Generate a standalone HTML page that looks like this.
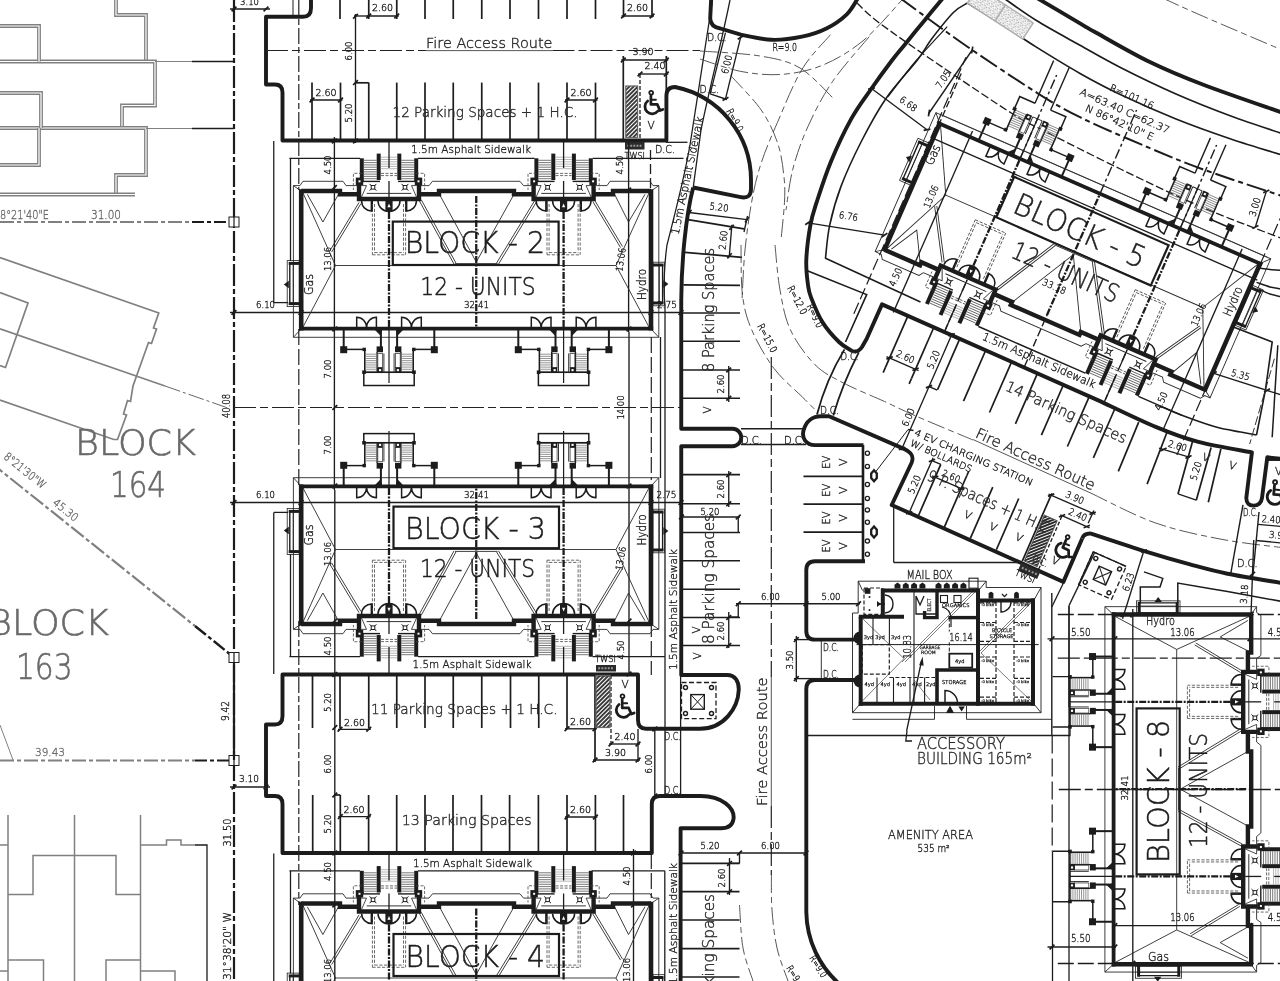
<!DOCTYPE html>
<html lang="en"><head><meta charset="utf-8"><title>Site Plan</title>
<style>html,body{margin:0;padding:0;background:#fff;overflow:hidden}svg{display:block;filter:grayscale(1)}text{font-family:"DejaVu Sans Light","Liberation Sans",sans-serif;white-space:pre}text.d{stroke:#1c1c1c;stroke-width:0.35px}text.g{stroke:#6a6a6a;stroke-width:0.35px}text.b{stroke:#1e1e1e;stroke-width:0.5px}text.bg{stroke:#6a6a6a;stroke-width:0.6px}text.m{stroke:#2b2b2b;stroke-width:0.4px}</style></head><body>
<svg width="1280" height="981" viewBox="0 0 1280 981">
<rect width="1280" height="981" fill="#fff"/>
<defs><g id="bldg">
<path d="M293.4,337.3 V185.6 H300 L303,181.3 H343 L346,185.6 H357" stroke="#2a2a2a" stroke-width="0.9" fill="none"/>
<path d="M421,185.6 H429 L432.5,181.3 H520 L523.5,185.6 H531.6" stroke="#2a2a2a" stroke-width="0.9" fill="none"/>
<path d="M595.6,185.6 H607 L610,181.3 H650 L653,185.6 H658.8 V337.3 H293.4" stroke="#2a2a2a" stroke-width="0.9" fill="none"/>
<line x1="293.4" y1="185.6" x2="301" y2="191" stroke="#2a2a2a" stroke-width="0.9"/>
<line x1="658.8" y1="185.6" x2="651" y2="191" stroke="#2a2a2a" stroke-width="0.9"/>
<line x1="293.4" y1="337.3" x2="301" y2="329" stroke="#2a2a2a" stroke-width="0.9"/>
<line x1="658.8" y1="337.3" x2="651" y2="329" stroke="#2a2a2a" stroke-width="0.9"/>
<line x1="335.5" y1="265.5" x2="616" y2="265.5" stroke="#2a2a2a" stroke-width="0.9"/>
<line x1="303" y1="193" x2="335.5" y2="265.5" stroke="#2a2a2a" stroke-width="0.9"/>
<line x1="303" y1="327" x2="335.5" y2="265.5" stroke="#2a2a2a" stroke-width="0.9"/>
<line x1="649" y1="193" x2="616" y2="265.5" stroke="#2a2a2a" stroke-width="0.9"/>
<line x1="649" y1="327" x2="616" y2="265.5" stroke="#2a2a2a" stroke-width="0.9"/>
<path d="M307.3,194.3 L322.9,222 L338.5,194.3" stroke="#2a2a2a" stroke-width="0.9" fill="none"/>
<path d="M614.6,194.3 L628.5,222 L645,194.3" stroke="#2a2a2a" stroke-width="0.9" fill="none"/>
<line x1="359.06" y1="202.43" x2="329.76" y2="250.93" stroke="#2a2a2a" stroke-width="0.9"/>
<line x1="360.94" y1="203.57" x2="331.64" y2="252.07" stroke="#2a2a2a" stroke-width="0.9"/>
<line x1="592.86" y1="201.57" x2="620.56" y2="247.57" stroke="#2a2a2a" stroke-width="0.9"/>
<line x1="594.74" y1="200.43" x2="622.44" y2="246.43" stroke="#2a2a2a" stroke-width="0.9"/>
<line x1="419.34" y1="200.83" x2="454.04" y2="264.13" stroke="#2a2a2a" stroke-width="0.9"/>
<line x1="421.26" y1="199.77" x2="455.96" y2="263.07" stroke="#2a2a2a" stroke-width="0.9"/>
<line x1="534.66" y1="200.63" x2="496.56" y2="263.03" stroke="#2a2a2a" stroke-width="0.9"/>
<line x1="536.54" y1="201.77" x2="498.44" y2="264.17" stroke="#2a2a2a" stroke-width="0.9"/>
<line x1="455" y1="263.6" x2="497.5" y2="263.6" stroke="#2a2a2a" stroke-width="0.9"/>
<path d="M439.4,194.3 L476.25,262 L514,194.3" stroke="#2a2a2a" stroke-width="0.9" fill="none"/>
<line x1="301.2" y1="189.2" x2="301.2" y2="330.4" stroke="#1c1c1c" stroke-width="4.6"/>
<line x1="651" y1="189.2" x2="651" y2="330.4" stroke="#1c1c1c" stroke-width="4.6"/>
<line x1="299" y1="328.6" x2="653.2" y2="328.6" stroke="#1c1c1c" stroke-width="3.8"/>
<path d="M301.2,191 H340 V194.3 H359" stroke="#1c1c1c" stroke-width="4.4" fill="none"/>
<path d="M419,194.3 H439 V191 H514 V194.3 H533.6" stroke="#1c1c1c" stroke-width="4.4" fill="none"/>
<path d="M593.6,194.3 H613 V191 H651" stroke="#1c1c1c" stroke-width="4.4" fill="none"/>
<line x1="361.8" y1="158.3" x2="361.8" y2="181.5" stroke="#1c1c1c" stroke-width="4"/>
<line x1="378.7" y1="153.6" x2="378.7" y2="180" stroke="#1c1c1c" stroke-width="4"/>
<line x1="399.3" y1="153.6" x2="399.3" y2="180" stroke="#1c1c1c" stroke-width="4"/>
<line x1="416.2" y1="158.3" x2="416.2" y2="181.5" stroke="#1c1c1c" stroke-width="4"/>
<line x1="363.8" y1="160.3" x2="376.7" y2="160.3" stroke="#555" stroke-width="0.8"/>
<line x1="401.3" y1="160.3" x2="414.2" y2="160.3" stroke="#555" stroke-width="0.8"/>
<line x1="363.8" y1="162.6" x2="376.7" y2="162.6" stroke="#555" stroke-width="0.8"/>
<line x1="401.3" y1="162.6" x2="414.2" y2="162.6" stroke="#555" stroke-width="0.8"/>
<line x1="363.8" y1="164.9" x2="376.7" y2="164.9" stroke="#555" stroke-width="0.8"/>
<line x1="401.3" y1="164.9" x2="414.2" y2="164.9" stroke="#555" stroke-width="0.8"/>
<line x1="363.8" y1="167.2" x2="376.7" y2="167.2" stroke="#555" stroke-width="0.8"/>
<line x1="401.3" y1="167.2" x2="414.2" y2="167.2" stroke="#555" stroke-width="0.8"/>
<line x1="363.8" y1="169.5" x2="376.7" y2="169.5" stroke="#555" stroke-width="0.8"/>
<line x1="401.3" y1="169.5" x2="414.2" y2="169.5" stroke="#555" stroke-width="0.8"/>
<line x1="363.8" y1="171.8" x2="376.7" y2="171.8" stroke="#555" stroke-width="0.8"/>
<line x1="401.3" y1="171.8" x2="414.2" y2="171.8" stroke="#555" stroke-width="0.8"/>
<line x1="363.8" y1="174.1" x2="376.7" y2="174.1" stroke="#555" stroke-width="0.8"/>
<line x1="401.3" y1="174.1" x2="414.2" y2="174.1" stroke="#555" stroke-width="0.8"/>
<line x1="363.8" y1="176.4" x2="376.7" y2="176.4" stroke="#555" stroke-width="0.8"/>
<line x1="401.3" y1="176.4" x2="414.2" y2="176.4" stroke="#555" stroke-width="0.8"/>
<line x1="363.8" y1="178.7" x2="376.7" y2="178.7" stroke="#555" stroke-width="0.8"/>
<line x1="401.3" y1="178.7" x2="414.2" y2="178.7" stroke="#555" stroke-width="0.8"/>
<line x1="380.7" y1="157.2" x2="397.3" y2="157.2" stroke="#999" stroke-width="0.7"/>
<line x1="380.7" y1="159.5" x2="397.3" y2="159.5" stroke="#999" stroke-width="0.7"/>
<line x1="380.7" y1="161.8" x2="397.3" y2="161.8" stroke="#999" stroke-width="0.7"/>
<line x1="380.7" y1="164.1" x2="397.3" y2="164.1" stroke="#999" stroke-width="0.7"/>
<line x1="380.7" y1="166.4" x2="397.3" y2="166.4" stroke="#999" stroke-width="0.7"/>
<line x1="380.7" y1="168.7" x2="397.3" y2="168.7" stroke="#999" stroke-width="0.7"/>
<line x1="360" y1="181.4" x2="380" y2="181.4" stroke="#1c1c1c" stroke-width="1.4"/>
<line x1="398" y1="181.4" x2="418" y2="181.4" stroke="#1c1c1c" stroke-width="1.4"/>
<line x1="389" y1="142" x2="389" y2="168" stroke="#1c1c1c" stroke-width="1.3"/>
<line x1="389" y1="181" x2="389" y2="197" stroke="#1c1c1c" stroke-width="1.3"/>
<line x1="381" y1="173.4" x2="397" y2="173.4" stroke="#444" stroke-width="0.8" stroke-dasharray="3 1.5"/>
<line x1="381" y1="175.6" x2="397" y2="175.6" stroke="#444" stroke-width="0.8" stroke-dasharray="3 1.5"/>
<rect x="355.8" y="177.6" width="7.4" height="7.4" stroke="#1c1c1c" stroke-width="0" fill="#1c1c1c"/>
<rect x="358.5" y="180.3" width="2" height="2" stroke="#fff" stroke-width="0" fill="#fff"/>
<path d="M362,173.3 H353.4 V190" stroke="#444" stroke-width="0.8" fill="none" stroke-dasharray="3 1.6"/>
<line x1="369.6" y1="183.9" x2="376.4" y2="190.7" stroke="#1c1c1c" stroke-width="1"/>
<line x1="369.6" y1="190.7" x2="376.4" y2="183.9" stroke="#1c1c1c" stroke-width="1"/>
<rect x="371.2" y="185.5" width="3.6" height="3.6" stroke="#1c1c1c" stroke-width="1" fill="#fff"/>
<path d="M358.5,185.6 L366.5,185.6 L361.5,197" stroke="#1e1e1e" stroke-width="0.8" fill="none"/>
<path d="M371.8,200.5 V211 A10,10 0 0 1 361.6,201" stroke="#1c1c1c" stroke-width="1.5" fill="none"/>
<line x1="371.8" y1="200.5" x2="371.8" y2="211.4" stroke="#1c1c1c" stroke-width="2.4"/>
<line x1="374.5" y1="204" x2="374.5" y2="252.6" stroke="#444" stroke-width="0.8" stroke-dasharray="3.2 1.6"/>
<line x1="372.4" y1="204" x2="372.4" y2="254.8" stroke="#444" stroke-width="0.8" stroke-dasharray="3.2 1.6"/>
<rect x="414.8" y="177.6" width="7.4" height="7.4" stroke="#1c1c1c" stroke-width="0" fill="#1c1c1c"/>
<rect x="417.5" y="180.3" width="2" height="2" stroke="#fff" stroke-width="0" fill="#fff"/>
<path d="M416,173.3 H424.6 V190" stroke="#444" stroke-width="0.8" fill="none" stroke-dasharray="3 1.6"/>
<line x1="401.6" y1="183.9" x2="408.4" y2="190.7" stroke="#1c1c1c" stroke-width="1"/>
<line x1="401.6" y1="190.7" x2="408.4" y2="183.9" stroke="#1c1c1c" stroke-width="1"/>
<rect x="403.2" y="185.5" width="3.6" height="3.6" stroke="#1c1c1c" stroke-width="1" fill="#fff"/>
<path d="M419.5,185.6 L411.5,185.6 L416.5,197" stroke="#1e1e1e" stroke-width="0.8" fill="none"/>
<path d="M406.2,200.5 V211 A10,10 0 0 0 416.4,201" stroke="#1c1c1c" stroke-width="1.5" fill="none"/>
<line x1="406.2" y1="200.5" x2="406.2" y2="211.4" stroke="#1c1c1c" stroke-width="2.4"/>
<line x1="403.5" y1="204" x2="403.5" y2="252.6" stroke="#444" stroke-width="0.8" stroke-dasharray="3.2 1.6"/>
<line x1="405.6" y1="204" x2="405.6" y2="254.8" stroke="#444" stroke-width="0.8" stroke-dasharray="3.2 1.6"/>
<line x1="366.7" y1="193.4" x2="411.3" y2="193.4" stroke="#1e1e1e" stroke-width="0.9"/>
<line x1="374.5" y1="252.6" x2="403.5" y2="252.6" stroke="#444" stroke-width="0.8" stroke-dasharray="3.2 1.6"/>
<line x1="372.4" y1="254.8" x2="405.6" y2="254.8" stroke="#444" stroke-width="0.8" stroke-dasharray="3.2 1.6"/>
<path d="M378,201 A11,10.4 0 0 0 400,201" stroke="#1c1c1c" stroke-width="1.5" fill="none"/>
<rect x="385.4" y="200" width="7.2" height="11.4" stroke="#1c1c1c" stroke-width="0" fill="#1c1c1c"/>
<path d="M387.4,207.2 L389,203.6 L390.6,207.2 Z" stroke="#fff" stroke-width="0" fill="#fff"/>
<path d="M359,184.5 V199 H419 V184.5" stroke="#1c1c1c" stroke-width="4.4" fill="none" stroke-linejoin="miter"/>
<line x1="389" y1="212" x2="389" y2="327" stroke="#1c1c1c" stroke-width="2.3" stroke-dasharray="7 1.5 2 1.5"/>
<line x1="343.7" y1="328.6" x2="343.7" y2="349.7" stroke="#1c1c1c" stroke-width="2"/>
<rect x="340.2" y="346.2" width="7" height="7" stroke="#1c1c1c" stroke-width="0" fill="#1c1c1c"/>
<line x1="343.7" y1="349.4" x2="365" y2="349.4" stroke="#1c1c1c" stroke-width="1.5"/>
<rect x="362.5" y="347.7" width="3.4" height="3.4" stroke="#1c1c1c" stroke-width="0" fill="#1c1c1c"/>
<line x1="380.9" y1="328.6" x2="380.9" y2="349" stroke="#1c1c1c" stroke-width="2"/>
<rect x="376.6" y="346.4" width="6.4" height="5.8" stroke="#1c1c1c" stroke-width="0" fill="#1c1c1c"/>
<line x1="364.8" y1="349.4" x2="364.8" y2="372.4" stroke="#1c1c1c" stroke-width="1.6"/>
<line x1="377.1" y1="352" x2="377.1" y2="372.4" stroke="#1c1c1c" stroke-width="1.4"/>
<line x1="376.4" y1="354.2" x2="365.6" y2="354.2" stroke="#7a7a7a" stroke-width="0.8"/>
<line x1="376.4" y1="356.35" x2="365.6" y2="356.35" stroke="#7a7a7a" stroke-width="0.8"/>
<line x1="376.4" y1="358.5" x2="365.6" y2="358.5" stroke="#7a7a7a" stroke-width="0.8"/>
<line x1="376.4" y1="360.65" x2="365.6" y2="360.65" stroke="#7a7a7a" stroke-width="0.8"/>
<line x1="376.4" y1="362.8" x2="365.6" y2="362.8" stroke="#7a7a7a" stroke-width="0.8"/>
<line x1="376.4" y1="364.95" x2="365.6" y2="364.95" stroke="#7a7a7a" stroke-width="0.8"/>
<line x1="376.4" y1="367.1" x2="365.6" y2="367.1" stroke="#7a7a7a" stroke-width="0.8"/>
<line x1="376.4" y1="369.25" x2="365.6" y2="369.25" stroke="#7a7a7a" stroke-width="0.8"/>
<line x1="376.4" y1="371.4" x2="365.6" y2="371.4" stroke="#7a7a7a" stroke-width="0.8"/>
<rect x="377.8" y="353.4" width="4.7" height="14.2" stroke="#444" stroke-width="0.8" fill="#fff"/>
<rect x="377.3" y="367.4" width="5.5" height="5.6" stroke="#1c1c1c" stroke-width="0" fill="#1c1c1c"/>
<rect x="378.95" y="369.1" width="2.2" height="2.2" stroke="#fff" stroke-width="0" fill="#fff"/>
<line x1="383.9" y1="353.4" x2="383.9" y2="372.2" stroke="#1e1e1e" stroke-width="0.9"/>
<rect x="362.2" y="370.4" width="3.6" height="3.6" stroke="#1c1c1c" stroke-width="0" fill="#1c1c1c"/>
<path d="M356.7,328.6 V317.3 A9.85,10.4 0 0 1 366.55,327.7 A9.85,10.4 0 0 1 376.4,317.3 V328.6" stroke="#1c1c1c" stroke-width="1.5" fill="none"/>
<path d="M375,330 L382,330 L380.8,336 Z" stroke="#1c1c1c" stroke-width="0" fill="#1c1c1c"/>
<line x1="434.3" y1="328.6" x2="434.3" y2="349.7" stroke="#1c1c1c" stroke-width="2"/>
<rect x="430.8" y="346.2" width="7" height="7" stroke="#1c1c1c" stroke-width="0" fill="#1c1c1c"/>
<line x1="434.3" y1="349.4" x2="413" y2="349.4" stroke="#1c1c1c" stroke-width="1.5"/>
<rect x="412.1" y="347.7" width="3.4" height="3.4" stroke="#1c1c1c" stroke-width="0" fill="#1c1c1c"/>
<line x1="397.1" y1="328.6" x2="397.1" y2="349" stroke="#1c1c1c" stroke-width="2"/>
<rect x="395" y="346.4" width="6.4" height="5.8" stroke="#1c1c1c" stroke-width="0" fill="#1c1c1c"/>
<line x1="413.2" y1="349.4" x2="413.2" y2="372.4" stroke="#1c1c1c" stroke-width="1.6"/>
<line x1="400.9" y1="352" x2="400.9" y2="372.4" stroke="#1c1c1c" stroke-width="1.4"/>
<line x1="401.6" y1="354.2" x2="412.4" y2="354.2" stroke="#7a7a7a" stroke-width="0.8"/>
<line x1="401.6" y1="356.35" x2="412.4" y2="356.35" stroke="#7a7a7a" stroke-width="0.8"/>
<line x1="401.6" y1="358.5" x2="412.4" y2="358.5" stroke="#7a7a7a" stroke-width="0.8"/>
<line x1="401.6" y1="360.65" x2="412.4" y2="360.65" stroke="#7a7a7a" stroke-width="0.8"/>
<line x1="401.6" y1="362.8" x2="412.4" y2="362.8" stroke="#7a7a7a" stroke-width="0.8"/>
<line x1="401.6" y1="364.95" x2="412.4" y2="364.95" stroke="#7a7a7a" stroke-width="0.8"/>
<line x1="401.6" y1="367.1" x2="412.4" y2="367.1" stroke="#7a7a7a" stroke-width="0.8"/>
<line x1="401.6" y1="369.25" x2="412.4" y2="369.25" stroke="#7a7a7a" stroke-width="0.8"/>
<line x1="401.6" y1="371.4" x2="412.4" y2="371.4" stroke="#7a7a7a" stroke-width="0.8"/>
<rect x="395.5" y="353.4" width="4.7" height="14.2" stroke="#444" stroke-width="0.8" fill="#fff"/>
<rect x="395.2" y="367.4" width="5.5" height="5.6" stroke="#1c1c1c" stroke-width="0" fill="#1c1c1c"/>
<rect x="396.85" y="369.1" width="2.2" height="2.2" stroke="#fff" stroke-width="0" fill="#fff"/>
<line x1="394.1" y1="353.4" x2="394.1" y2="372.2" stroke="#1e1e1e" stroke-width="0.9"/>
<rect x="412.2" y="370.4" width="3.6" height="3.6" stroke="#1c1c1c" stroke-width="0" fill="#1c1c1c"/>
<path d="M401.6,328.6 V317.3 A9.85,10.4 0 0 1 411.45,327.7 A9.85,10.4 0 0 1 421.3,317.3 V328.6" stroke="#1c1c1c" stroke-width="1.5" fill="none"/>
<path d="M403,330 L396,330 L397.2,336 Z" stroke="#1c1c1c" stroke-width="0" fill="#1c1c1c"/>
<line x1="383.9" y1="372.2" x2="394.1" y2="372.2" stroke="#1e1e1e" stroke-width="0.9"/>
<line x1="389" y1="328.6" x2="389" y2="372.3" stroke="#1c1c1c" stroke-width="1.2"/>
<line x1="536.4" y1="158.3" x2="536.4" y2="181.5" stroke="#1c1c1c" stroke-width="4"/>
<line x1="553.3" y1="153.6" x2="553.3" y2="180" stroke="#1c1c1c" stroke-width="4"/>
<line x1="573.9" y1="153.6" x2="573.9" y2="180" stroke="#1c1c1c" stroke-width="4"/>
<line x1="590.8" y1="158.3" x2="590.8" y2="181.5" stroke="#1c1c1c" stroke-width="4"/>
<line x1="538.4" y1="160.3" x2="551.3" y2="160.3" stroke="#555" stroke-width="0.8"/>
<line x1="575.9" y1="160.3" x2="588.8" y2="160.3" stroke="#555" stroke-width="0.8"/>
<line x1="538.4" y1="162.6" x2="551.3" y2="162.6" stroke="#555" stroke-width="0.8"/>
<line x1="575.9" y1="162.6" x2="588.8" y2="162.6" stroke="#555" stroke-width="0.8"/>
<line x1="538.4" y1="164.9" x2="551.3" y2="164.9" stroke="#555" stroke-width="0.8"/>
<line x1="575.9" y1="164.9" x2="588.8" y2="164.9" stroke="#555" stroke-width="0.8"/>
<line x1="538.4" y1="167.2" x2="551.3" y2="167.2" stroke="#555" stroke-width="0.8"/>
<line x1="575.9" y1="167.2" x2="588.8" y2="167.2" stroke="#555" stroke-width="0.8"/>
<line x1="538.4" y1="169.5" x2="551.3" y2="169.5" stroke="#555" stroke-width="0.8"/>
<line x1="575.9" y1="169.5" x2="588.8" y2="169.5" stroke="#555" stroke-width="0.8"/>
<line x1="538.4" y1="171.8" x2="551.3" y2="171.8" stroke="#555" stroke-width="0.8"/>
<line x1="575.9" y1="171.8" x2="588.8" y2="171.8" stroke="#555" stroke-width="0.8"/>
<line x1="538.4" y1="174.1" x2="551.3" y2="174.1" stroke="#555" stroke-width="0.8"/>
<line x1="575.9" y1="174.1" x2="588.8" y2="174.1" stroke="#555" stroke-width="0.8"/>
<line x1="538.4" y1="176.4" x2="551.3" y2="176.4" stroke="#555" stroke-width="0.8"/>
<line x1="575.9" y1="176.4" x2="588.8" y2="176.4" stroke="#555" stroke-width="0.8"/>
<line x1="538.4" y1="178.7" x2="551.3" y2="178.7" stroke="#555" stroke-width="0.8"/>
<line x1="575.9" y1="178.7" x2="588.8" y2="178.7" stroke="#555" stroke-width="0.8"/>
<line x1="555.3" y1="157.2" x2="571.9" y2="157.2" stroke="#999" stroke-width="0.7"/>
<line x1="555.3" y1="159.5" x2="571.9" y2="159.5" stroke="#999" stroke-width="0.7"/>
<line x1="555.3" y1="161.8" x2="571.9" y2="161.8" stroke="#999" stroke-width="0.7"/>
<line x1="555.3" y1="164.1" x2="571.9" y2="164.1" stroke="#999" stroke-width="0.7"/>
<line x1="555.3" y1="166.4" x2="571.9" y2="166.4" stroke="#999" stroke-width="0.7"/>
<line x1="555.3" y1="168.7" x2="571.9" y2="168.7" stroke="#999" stroke-width="0.7"/>
<line x1="534.6" y1="181.4" x2="554.6" y2="181.4" stroke="#1c1c1c" stroke-width="1.4"/>
<line x1="572.6" y1="181.4" x2="592.6" y2="181.4" stroke="#1c1c1c" stroke-width="1.4"/>
<line x1="563.6" y1="142" x2="563.6" y2="168" stroke="#1c1c1c" stroke-width="1.3"/>
<line x1="563.6" y1="181" x2="563.6" y2="197" stroke="#1c1c1c" stroke-width="1.3"/>
<line x1="555.6" y1="173.4" x2="571.6" y2="173.4" stroke="#444" stroke-width="0.8" stroke-dasharray="3 1.5"/>
<line x1="555.6" y1="175.6" x2="571.6" y2="175.6" stroke="#444" stroke-width="0.8" stroke-dasharray="3 1.5"/>
<rect x="530.4" y="177.6" width="7.4" height="7.4" stroke="#1c1c1c" stroke-width="0" fill="#1c1c1c"/>
<rect x="533.1" y="180.3" width="2" height="2" stroke="#fff" stroke-width="0" fill="#fff"/>
<path d="M536.6,173.3 H528 V190" stroke="#444" stroke-width="0.8" fill="none" stroke-dasharray="3 1.6"/>
<line x1="544.2" y1="183.9" x2="551" y2="190.7" stroke="#1c1c1c" stroke-width="1"/>
<line x1="544.2" y1="190.7" x2="551" y2="183.9" stroke="#1c1c1c" stroke-width="1"/>
<rect x="545.8" y="185.5" width="3.6" height="3.6" stroke="#1c1c1c" stroke-width="1" fill="#fff"/>
<path d="M533.1,185.6 L541.1,185.6 L536.1,197" stroke="#1e1e1e" stroke-width="0.8" fill="none"/>
<path d="M546.4,200.5 V211 A10,10 0 0 1 536.2,201" stroke="#1c1c1c" stroke-width="1.5" fill="none"/>
<line x1="546.4" y1="200.5" x2="546.4" y2="211.4" stroke="#1c1c1c" stroke-width="2.4"/>
<line x1="549.1" y1="204" x2="549.1" y2="252.6" stroke="#444" stroke-width="0.8" stroke-dasharray="3.2 1.6"/>
<line x1="547" y1="204" x2="547" y2="254.8" stroke="#444" stroke-width="0.8" stroke-dasharray="3.2 1.6"/>
<rect x="589.4" y="177.6" width="7.4" height="7.4" stroke="#1c1c1c" stroke-width="0" fill="#1c1c1c"/>
<rect x="592.1" y="180.3" width="2" height="2" stroke="#fff" stroke-width="0" fill="#fff"/>
<path d="M590.6,173.3 H599.2 V190" stroke="#444" stroke-width="0.8" fill="none" stroke-dasharray="3 1.6"/>
<line x1="576.2" y1="183.9" x2="583" y2="190.7" stroke="#1c1c1c" stroke-width="1"/>
<line x1="576.2" y1="190.7" x2="583" y2="183.9" stroke="#1c1c1c" stroke-width="1"/>
<rect x="577.8" y="185.5" width="3.6" height="3.6" stroke="#1c1c1c" stroke-width="1" fill="#fff"/>
<path d="M594.1,185.6 L586.1,185.6 L591.1,197" stroke="#1e1e1e" stroke-width="0.8" fill="none"/>
<path d="M580.8,200.5 V211 A10,10 0 0 0 591,201" stroke="#1c1c1c" stroke-width="1.5" fill="none"/>
<line x1="580.8" y1="200.5" x2="580.8" y2="211.4" stroke="#1c1c1c" stroke-width="2.4"/>
<line x1="578.1" y1="204" x2="578.1" y2="252.6" stroke="#444" stroke-width="0.8" stroke-dasharray="3.2 1.6"/>
<line x1="580.2" y1="204" x2="580.2" y2="254.8" stroke="#444" stroke-width="0.8" stroke-dasharray="3.2 1.6"/>
<line x1="541.3" y1="193.4" x2="585.9" y2="193.4" stroke="#1e1e1e" stroke-width="0.9"/>
<line x1="549.1" y1="252.6" x2="578.1" y2="252.6" stroke="#444" stroke-width="0.8" stroke-dasharray="3.2 1.6"/>
<line x1="547" y1="254.8" x2="580.2" y2="254.8" stroke="#444" stroke-width="0.8" stroke-dasharray="3.2 1.6"/>
<path d="M552.6,201 A11,10.4 0 0 0 574.6,201" stroke="#1c1c1c" stroke-width="1.5" fill="none"/>
<rect x="560" y="200" width="7.2" height="11.4" stroke="#1c1c1c" stroke-width="0" fill="#1c1c1c"/>
<path d="M562,207.2 L563.6,203.6 L565.2,207.2 Z" stroke="#fff" stroke-width="0" fill="#fff"/>
<path d="M533.6,184.5 V199 H593.6 V184.5" stroke="#1c1c1c" stroke-width="4.4" fill="none" stroke-linejoin="miter"/>
<line x1="563.6" y1="212" x2="563.6" y2="327" stroke="#1c1c1c" stroke-width="2.3" stroke-dasharray="7 1.5 2 1.5"/>
<line x1="518.3" y1="328.6" x2="518.3" y2="349.7" stroke="#1c1c1c" stroke-width="2"/>
<rect x="514.8" y="346.2" width="7" height="7" stroke="#1c1c1c" stroke-width="0" fill="#1c1c1c"/>
<line x1="518.3" y1="349.4" x2="539.6" y2="349.4" stroke="#1c1c1c" stroke-width="1.5"/>
<rect x="537.1" y="347.7" width="3.4" height="3.4" stroke="#1c1c1c" stroke-width="0" fill="#1c1c1c"/>
<line x1="555.5" y1="328.6" x2="555.5" y2="349" stroke="#1c1c1c" stroke-width="2"/>
<rect x="551.2" y="346.4" width="6.4" height="5.8" stroke="#1c1c1c" stroke-width="0" fill="#1c1c1c"/>
<line x1="539.4" y1="349.4" x2="539.4" y2="372.4" stroke="#1c1c1c" stroke-width="1.6"/>
<line x1="551.7" y1="352" x2="551.7" y2="372.4" stroke="#1c1c1c" stroke-width="1.4"/>
<line x1="551" y1="354.2" x2="540.2" y2="354.2" stroke="#7a7a7a" stroke-width="0.8"/>
<line x1="551" y1="356.35" x2="540.2" y2="356.35" stroke="#7a7a7a" stroke-width="0.8"/>
<line x1="551" y1="358.5" x2="540.2" y2="358.5" stroke="#7a7a7a" stroke-width="0.8"/>
<line x1="551" y1="360.65" x2="540.2" y2="360.65" stroke="#7a7a7a" stroke-width="0.8"/>
<line x1="551" y1="362.8" x2="540.2" y2="362.8" stroke="#7a7a7a" stroke-width="0.8"/>
<line x1="551" y1="364.95" x2="540.2" y2="364.95" stroke="#7a7a7a" stroke-width="0.8"/>
<line x1="551" y1="367.1" x2="540.2" y2="367.1" stroke="#7a7a7a" stroke-width="0.8"/>
<line x1="551" y1="369.25" x2="540.2" y2="369.25" stroke="#7a7a7a" stroke-width="0.8"/>
<line x1="551" y1="371.4" x2="540.2" y2="371.4" stroke="#7a7a7a" stroke-width="0.8"/>
<rect x="552.4" y="353.4" width="4.7" height="14.2" stroke="#444" stroke-width="0.8" fill="#fff"/>
<rect x="551.9" y="367.4" width="5.5" height="5.6" stroke="#1c1c1c" stroke-width="0" fill="#1c1c1c"/>
<rect x="553.55" y="369.1" width="2.2" height="2.2" stroke="#fff" stroke-width="0" fill="#fff"/>
<line x1="558.5" y1="353.4" x2="558.5" y2="372.2" stroke="#1e1e1e" stroke-width="0.9"/>
<rect x="536.8" y="370.4" width="3.6" height="3.6" stroke="#1c1c1c" stroke-width="0" fill="#1c1c1c"/>
<path d="M531.3,328.6 V317.3 A9.85,10.4 0 0 1 541.15,327.7 A9.85,10.4 0 0 1 551,317.3 V328.6" stroke="#1c1c1c" stroke-width="1.5" fill="none"/>
<path d="M549.6,330 L556.6,330 L555.4,336 Z" stroke="#1c1c1c" stroke-width="0" fill="#1c1c1c"/>
<line x1="608.9" y1="328.6" x2="608.9" y2="349.7" stroke="#1c1c1c" stroke-width="2"/>
<rect x="605.4" y="346.2" width="7" height="7" stroke="#1c1c1c" stroke-width="0" fill="#1c1c1c"/>
<line x1="608.9" y1="349.4" x2="587.6" y2="349.4" stroke="#1c1c1c" stroke-width="1.5"/>
<rect x="586.7" y="347.7" width="3.4" height="3.4" stroke="#1c1c1c" stroke-width="0" fill="#1c1c1c"/>
<line x1="571.7" y1="328.6" x2="571.7" y2="349" stroke="#1c1c1c" stroke-width="2"/>
<rect x="569.6" y="346.4" width="6.4" height="5.8" stroke="#1c1c1c" stroke-width="0" fill="#1c1c1c"/>
<line x1="587.8" y1="349.4" x2="587.8" y2="372.4" stroke="#1c1c1c" stroke-width="1.6"/>
<line x1="575.5" y1="352" x2="575.5" y2="372.4" stroke="#1c1c1c" stroke-width="1.4"/>
<line x1="576.2" y1="354.2" x2="587" y2="354.2" stroke="#7a7a7a" stroke-width="0.8"/>
<line x1="576.2" y1="356.35" x2="587" y2="356.35" stroke="#7a7a7a" stroke-width="0.8"/>
<line x1="576.2" y1="358.5" x2="587" y2="358.5" stroke="#7a7a7a" stroke-width="0.8"/>
<line x1="576.2" y1="360.65" x2="587" y2="360.65" stroke="#7a7a7a" stroke-width="0.8"/>
<line x1="576.2" y1="362.8" x2="587" y2="362.8" stroke="#7a7a7a" stroke-width="0.8"/>
<line x1="576.2" y1="364.95" x2="587" y2="364.95" stroke="#7a7a7a" stroke-width="0.8"/>
<line x1="576.2" y1="367.1" x2="587" y2="367.1" stroke="#7a7a7a" stroke-width="0.8"/>
<line x1="576.2" y1="369.25" x2="587" y2="369.25" stroke="#7a7a7a" stroke-width="0.8"/>
<line x1="576.2" y1="371.4" x2="587" y2="371.4" stroke="#7a7a7a" stroke-width="0.8"/>
<rect x="570.1" y="353.4" width="4.7" height="14.2" stroke="#444" stroke-width="0.8" fill="#fff"/>
<rect x="569.8" y="367.4" width="5.5" height="5.6" stroke="#1c1c1c" stroke-width="0" fill="#1c1c1c"/>
<rect x="571.45" y="369.1" width="2.2" height="2.2" stroke="#fff" stroke-width="0" fill="#fff"/>
<line x1="568.7" y1="353.4" x2="568.7" y2="372.2" stroke="#1e1e1e" stroke-width="0.9"/>
<rect x="586.8" y="370.4" width="3.6" height="3.6" stroke="#1c1c1c" stroke-width="0" fill="#1c1c1c"/>
<path d="M576.2,328.6 V317.3 A9.85,10.4 0 0 1 586.05,327.7 A9.85,10.4 0 0 1 595.9,317.3 V328.6" stroke="#1c1c1c" stroke-width="1.5" fill="none"/>
<path d="M577.6,330 L570.6,330 L571.8,336 Z" stroke="#1c1c1c" stroke-width="0" fill="#1c1c1c"/>
<line x1="558.5" y1="372.2" x2="568.7" y2="372.2" stroke="#1e1e1e" stroke-width="0.9"/>
<line x1="563.6" y1="328.6" x2="563.6" y2="372.3" stroke="#1c1c1c" stroke-width="1.2"/>
<line x1="476.25" y1="196" x2="476.25" y2="327" stroke="#1c1c1c" stroke-width="2.3" stroke-dasharray="7 1.5 2 1.5"/>
<rect x="287.2" y="260.6" width="12" height="46" stroke="#1e1e1e" stroke-width="0.8" fill="none"/>
<line x1="288.7" y1="263.4" x2="300" y2="263.4" stroke="#1c1c1c" stroke-width="3"/>
<line x1="288.7" y1="303.6" x2="300" y2="303.6" stroke="#1c1c1c" stroke-width="3"/>
<line x1="289.8" y1="263" x2="289.8" y2="304" stroke="#1c1c1c" stroke-width="1.4"/>
<line x1="293.2" y1="263" x2="293.2" y2="304" stroke="#1e1e1e" stroke-width="0.8"/>
<path d="M283.8,284.5 L288.8,280.8 L288.8,288.2 Z" stroke="#1c1c1c" stroke-width="0" fill="#1c1c1c"/>
<rect x="653" y="262.2" width="11.6" height="43.6" stroke="#1e1e1e" stroke-width="0.8" fill="none"/>
<line x1="652" y1="265" x2="663.5" y2="265" stroke="#1c1c1c" stroke-width="3"/>
<line x1="652" y1="303" x2="663.5" y2="303" stroke="#1c1c1c" stroke-width="3"/>
<line x1="662.6" y1="264.6" x2="662.6" y2="303.4" stroke="#1c1c1c" stroke-width="1.4"/>
<line x1="659.4" y1="264.6" x2="659.4" y2="303.4" stroke="#1e1e1e" stroke-width="0.8"/>
<path d="M668.4,284 L663.4,280.3 L663.4,287.7 Z" stroke="#1c1c1c" stroke-width="0" fill="#1c1c1c"/>
</g></defs>
<path d="M116,0 V15 H146 V61.5" stroke="#808080" stroke-width="3.8" fill="none"/>
<path d="M116,0 V15 H146 V61.5" stroke="#fff" stroke-width="1.2" fill="none"/>
<path d="M0,61.5 H155 V105.5 H122 V128" stroke="#808080" stroke-width="3.8" fill="none"/>
<path d="M0,61.5 H155 V105.5 H122 V128" stroke="#fff" stroke-width="1.2" fill="none"/>
<path d="M0,128 H146 V175 H116 V194.5" stroke="#808080" stroke-width="3.8" fill="none"/>
<path d="M0,128 H146 V175 H116 V194.5" stroke="#fff" stroke-width="1.2" fill="none"/>
<path d="M0,26 H39 V61.5" stroke="#808080" stroke-width="3.8" fill="none"/>
<path d="M0,26 H39 V61.5" stroke="#fff" stroke-width="1.2" fill="none"/>
<path d="M0,93 H41 V128" stroke="#808080" stroke-width="3.8" fill="none"/>
<path d="M0,93 H41 V128" stroke="#fff" stroke-width="1.2" fill="none"/>
<path d="M39,128 V165 H0" stroke="#808080" stroke-width="3.8" fill="none"/>
<path d="M39,128 V165 H0" stroke="#fff" stroke-width="1.2" fill="none"/>
<path d="M0,194.5 H135" stroke="#808080" stroke-width="3.8" fill="none"/>
<path d="M0,194.5 H135" stroke="#fff" stroke-width="1.2" fill="none"/>
<line x1="155" y1="61.5" x2="192" y2="61.5" stroke="#808080" stroke-width="1"/>
<line x1="192" y1="61.5" x2="234" y2="61.5" stroke="#1c1c1c" stroke-width="1.4"/>
<line x1="146" y1="128.5" x2="192" y2="128.5" stroke="#808080" stroke-width="1"/>
<line x1="192" y1="128.5" x2="234" y2="128.5" stroke="#1c1c1c" stroke-width="1.4"/>
<line x1="0" y1="222" x2="192" y2="222" stroke="#808080" stroke-width="2" stroke-dasharray="14 3 4 3"/>
<line x1="192" y1="222" x2="229" y2="222" stroke="#1c1c1c" stroke-width="2.2" stroke-dasharray="12 3 4 3"/>
<text x="0" y="218.5" font-size="11.5" fill="#666" textLength="49" lengthAdjust="spacingAndGlyphs" class="g">8°21'40"E</text>
<text x="91" y="218.5" font-size="11.5" fill="#666" textLength="30" lengthAdjust="spacingAndGlyphs" class="g">31.00</text>
<path d="M0,257.5 L158.75,313 L153.5,328 L156.5,329 L151.5,343.5 L148.5,342.5 L133,386 L130.5,401.5 L127.5,400.5 L123.5,414 L126.5,415 L117.5,439.5 L113.75,439.5 L0,400" stroke="#808080" stroke-width="1.7" fill="none"/>
<line x1="0" y1="328.75" x2="165" y2="386" stroke="#808080" stroke-width="1.7"/>
<line x1="165" y1="386" x2="228" y2="408" stroke="#555" stroke-width="0.9" stroke-dasharray="16 3 3 3"/>
<path d="M0,292.5 L28,303 L5.5,367.5 L0,365.6" stroke="#808080" stroke-width="1.7" fill="none"/>
<text x="75" y="454.5" font-size="35" fill="#6a6a6a" textLength="121" lengthAdjust="spacingAndGlyphs" class="l bg">BLOCK</text>
<text x="110" y="497" font-size="35" fill="#6a6a6a" textLength="56" lengthAdjust="spacingAndGlyphs" class="l bg">164</text>
<text x="-12" y="635" font-size="35" fill="#6a6a6a" textLength="121" lengthAdjust="spacingAndGlyphs" class="l bg">BLOCK</text>
<text x="16" y="678.8" font-size="35" fill="#6a6a6a" textLength="56.5" lengthAdjust="spacingAndGlyphs" class="l bg">163</text>
<line x1="-10" y1="462" x2="195" y2="626" stroke="#808080" stroke-width="2.2" stroke-dasharray="16 3 4 3"/>
<line x1="195" y1="626" x2="231" y2="655" stroke="#1c1c1c" stroke-width="2.4" stroke-dasharray="14 3 4 3"/>
<text transform="translate(52 504) rotate(38.7)" font-size="11" fill="#666" textLength="29" lengthAdjust="spacingAndGlyphs" class="g">45.30</text>
<text transform="translate(3 458) rotate(38.7)" font-size="11.5" fill="#666" textLength="50" lengthAdjust="spacingAndGlyphs" class="g">8°21'30"W</text>
<line x1="0" y1="760.5" x2="195" y2="760.5" stroke="#808080" stroke-width="2" stroke-dasharray="14 3 4 3"/>
<line x1="195" y1="760.5" x2="229" y2="760.5" stroke="#1c1c1c" stroke-width="2.2" stroke-dasharray="12 3 4 3"/>
<text x="35" y="756" font-size="11" fill="#777" textLength="30" lengthAdjust="spacingAndGlyphs" class="g">39.43</text>
<line x1="0" y1="725" x2="13" y2="760" stroke="#808080" stroke-width="1"/>
<path d="M8,815 V981" stroke="#808080" stroke-width="1.5" fill="none"/>
<path d="M74.5,815 V981" stroke="#808080" stroke-width="1.5" fill="none"/>
<path d="M140.5,815 V981" stroke="#808080" stroke-width="1.5" fill="none"/>
<path d="M0,845 H8" stroke="#808080" stroke-width="1.5" fill="none"/>
<path d="M8,894.5 H33 V855.5 H116 V894.5 H140.5" stroke="#808080" stroke-width="1.5" fill="none"/>
<path d="M140.5,845 H166.5 V840 H181 V845 H195" stroke="#808080" stroke-width="1.5" fill="none"/>
<path d="M195,845 H207 V981" stroke="#1c1c1c" stroke-width="1.3" fill="none"/>
<path d="M8,960 H43.5 V981" stroke="#808080" stroke-width="1.5" fill="none"/>
<path d="M140.5,960 H106 V981" stroke="#808080" stroke-width="1.5" fill="none"/>
<path d="M140.5,971 H175 V981" stroke="#808080" stroke-width="1.5" fill="none"/>
<path d="M0,971 H8" stroke="#808080" stroke-width="1.5" fill="none"/>
<line x1="234" y1="0" x2="234" y2="981" stroke="#1c1c1c" stroke-width="2.2" stroke-dasharray="22 3 5 3"/>
<rect x="229" y="217" width="10" height="10" stroke="#1c1c1c" stroke-width="1" fill="#fff"/>
<line x1="234" y1="217" x2="234" y2="227" stroke="#1c1c1c" stroke-width="1.2"/>
<rect x="229" y="652.5" width="10" height="10" stroke="#1c1c1c" stroke-width="1" fill="#fff"/>
<line x1="234" y1="652.5" x2="234" y2="662.5" stroke="#1c1c1c" stroke-width="1.2"/>
<rect x="229" y="755.5" width="10" height="10" stroke="#1c1c1c" stroke-width="1" fill="#fff"/>
<line x1="234" y1="755.5" x2="234" y2="765.5" stroke="#1c1c1c" stroke-width="1.2"/>
<line x1="234" y1="665" x2="234" y2="760" stroke="#1c1c1c" stroke-width="2.2"/>
<text transform="translate(230 406) rotate(-90)" font-size="10" text-anchor="middle" fill="#1c1c1c" textLength="24" lengthAdjust="spacingAndGlyphs" class="d">40.08</text>
<text transform="translate(229 711) rotate(-90)" font-size="10" text-anchor="middle" fill="#1c1c1c" textLength="20" lengthAdjust="spacingAndGlyphs" class="d">9.42</text>
<text transform="translate(231 832.5) rotate(-90)" font-size="10.5" text-anchor="middle" fill="#1c1c1c" textLength="28" lengthAdjust="spacingAndGlyphs" class="d">31.50</text>
<text transform="translate(231 980) rotate(-90)" font-size="11" fill="#1c1c1c" textLength="68" lengthAdjust="spacingAndGlyphs" class="d">31°38'20" W</text>
<line x1="230" y1="312.5" x2="300" y2="312.5" stroke="#1c1c1c" stroke-width="1.35"/>
<line x1="231.6" y1="314.9" x2="236.4" y2="310.1" stroke="#1c1c1c" stroke-width="1.7"/>
<text x="256" y="307.5" font-size="9.5" fill="#1c1c1c" textLength="19" lengthAdjust="spacingAndGlyphs" class="d">6.10</text>
<line x1="230" y1="502.5" x2="300" y2="502.5" stroke="#1c1c1c" stroke-width="1.35"/>
<line x1="231.6" y1="504.9" x2="236.4" y2="500.1" stroke="#1c1c1c" stroke-width="1.7"/>
<text x="256" y="497.5" font-size="9.5" fill="#1c1c1c" textLength="19" lengthAdjust="spacingAndGlyphs" class="d">6.10</text>
<line x1="230" y1="9" x2="270" y2="9" stroke="#1c1c1c" stroke-width="1.35"/>
<line x1="231.6" y1="11.4" x2="236.4" y2="6.6" stroke="#1c1c1c" stroke-width="1.7"/>
<line x1="263.6" y1="11.4" x2="268.4" y2="6.6" stroke="#1c1c1c" stroke-width="1.7"/>
<text x="240" y="5" font-size="9.5" fill="#1c1c1c" textLength="19" lengthAdjust="spacingAndGlyphs" class="d">3.10</text>
<line x1="230" y1="787" x2="270" y2="787" stroke="#1c1c1c" stroke-width="1.35"/>
<line x1="231.6" y1="789.4" x2="236.4" y2="784.6" stroke="#1c1c1c" stroke-width="1.7"/>
<line x1="263.6" y1="789.4" x2="268.4" y2="784.6" stroke="#1c1c1c" stroke-width="1.7"/>
<text x="239" y="782" font-size="9.5" fill="#1c1c1c" textLength="20" lengthAdjust="spacingAndGlyphs" class="d">3.10</text>
<line x1="234" y1="407.5" x2="681" y2="407.5" stroke="#222" stroke-width="1.2" stroke-dasharray="22 4 8 4"/>
<path d="M311,-2 V8 Q311,16.8 303,16.8 H266 V84.5 H275 Q282.5,84.5 282.5,92.5 V140.5 H666.4 V96 Q666.4,87 675,87 A95,95 0 0 1 751,180 V189 Q751,198.5 742,197.3 L693.2,187.5" stroke="#1c1c1c" stroke-width="3.9" fill="none" stroke-linejoin="round"/>
<line x1="293" y1="0" x2="293" y2="16" stroke="#1e1e1e" stroke-width="1"/>
<line x1="298.8" y1="0" x2="298.8" y2="190" stroke="#222" stroke-width="1.2" stroke-dasharray="16 3 6 3"/>
<line x1="340" y1="0" x2="340" y2="19" stroke="#1c1c1c" stroke-width="1.7"/>
<line x1="368.75" y1="0" x2="368.75" y2="19" stroke="#1c1c1c" stroke-width="1.7"/>
<line x1="396.75" y1="0" x2="396.75" y2="19" stroke="#1c1c1c" stroke-width="1.7"/>
<line x1="425" y1="0" x2="425" y2="19" stroke="#1c1c1c" stroke-width="1.7"/>
<line x1="453.25" y1="0" x2="453.25" y2="19" stroke="#1c1c1c" stroke-width="1.7"/>
<line x1="481.75" y1="0" x2="481.75" y2="19" stroke="#1c1c1c" stroke-width="1.7"/>
<line x1="510" y1="0" x2="510" y2="19" stroke="#1c1c1c" stroke-width="1.7"/>
<line x1="538.5" y1="0" x2="538.5" y2="19" stroke="#1c1c1c" stroke-width="1.7"/>
<line x1="567" y1="0" x2="567" y2="19" stroke="#1c1c1c" stroke-width="1.7"/>
<line x1="595.5" y1="0" x2="595.5" y2="19" stroke="#1c1c1c" stroke-width="1.7"/>
<line x1="623.5" y1="0" x2="623.5" y2="17.5" stroke="#1c1c1c" stroke-width="1.7"/>
<line x1="652" y1="0" x2="652" y2="17.5" stroke="#1c1c1c" stroke-width="1.7"/>
<line x1="312" y1="82.6" x2="312" y2="139.5" stroke="#1c1c1c" stroke-width="1.7"/>
<line x1="340.5" y1="82.6" x2="340.5" y2="139.5" stroke="#1c1c1c" stroke-width="1.7"/>
<line x1="368.75" y1="82.6" x2="368.75" y2="139.5" stroke="#1c1c1c" stroke-width="1.7"/>
<line x1="396.75" y1="82.6" x2="396.75" y2="139.5" stroke="#1c1c1c" stroke-width="1.7"/>
<line x1="425" y1="82.6" x2="425" y2="139.5" stroke="#1c1c1c" stroke-width="1.7"/>
<line x1="453.25" y1="82.6" x2="453.25" y2="139.5" stroke="#1c1c1c" stroke-width="1.7"/>
<line x1="481.75" y1="82.6" x2="481.75" y2="139.5" stroke="#1c1c1c" stroke-width="1.7"/>
<line x1="510" y1="82.6" x2="510" y2="139.5" stroke="#1c1c1c" stroke-width="1.7"/>
<line x1="538.5" y1="82.6" x2="538.5" y2="139.5" stroke="#1c1c1c" stroke-width="1.7"/>
<line x1="567" y1="82.6" x2="567" y2="139.5" stroke="#1c1c1c" stroke-width="1.7"/>
<line x1="595.5" y1="82.6" x2="595.5" y2="139.5" stroke="#1c1c1c" stroke-width="1.7"/>
<line x1="355.5" y1="82.8" x2="368.75" y2="82.8" stroke="#1c1c1c" stroke-width="1.7"/>
<line x1="623.3" y1="56" x2="623.3" y2="139.5" stroke="#1c1c1c" stroke-width="1.7"/>
<line x1="666.3" y1="56" x2="666.3" y2="96" stroke="#1c1c1c" stroke-width="1.7"/>
<line x1="640" y1="74" x2="640" y2="139.5" stroke="#1e1e1e" stroke-width="1.3" stroke-dasharray="4 2"/>
<line x1="355.5" y1="14" x2="355.5" y2="143" stroke="#1c1c1c" stroke-width="1.35"/>
<line x1="353.1" y1="18.7" x2="357.9" y2="13.9" stroke="#1c1c1c" stroke-width="1.7"/>
<line x1="353.1" y1="85" x2="357.9" y2="80.2" stroke="#1c1c1c" stroke-width="1.7"/>
<line x1="353.1" y1="143.4" x2="357.9" y2="138.6" stroke="#1c1c1c" stroke-width="1.7"/>
<line x1="366.75" y1="16" x2="398.75" y2="16" stroke="#1c1c1c" stroke-width="1.35"/>
<line x1="366.35" y1="18.4" x2="371.15" y2="13.6" stroke="#1c1c1c" stroke-width="1.7"/>
<line x1="394.35" y1="18.4" x2="399.15" y2="13.6" stroke="#1c1c1c" stroke-width="1.7"/>
<text x="382.5" y="10.5" font-size="9.5" text-anchor="middle" fill="#1c1c1c" class="d">2.60</text>
<line x1="354" y1="16" x2="369" y2="16" stroke="#1c1c1c" stroke-width="1.35"/>
<line x1="621.5" y1="16" x2="654" y2="16" stroke="#1c1c1c" stroke-width="1.35"/>
<line x1="621.1" y1="18.4" x2="625.9" y2="13.6" stroke="#1c1c1c" stroke-width="1.7"/>
<line x1="649.6" y1="18.4" x2="654.4" y2="13.6" stroke="#1c1c1c" stroke-width="1.7"/>
<text x="637.5" y="10.5" font-size="9.5" text-anchor="middle" fill="#1c1c1c" class="d">2.60</text>
<line x1="310" y1="100" x2="342.5" y2="100" stroke="#1c1c1c" stroke-width="1.35"/>
<line x1="309.6" y1="102.4" x2="314.4" y2="97.6" stroke="#1c1c1c" stroke-width="1.7"/>
<line x1="338.1" y1="102.4" x2="342.9" y2="97.6" stroke="#1c1c1c" stroke-width="1.7"/>
<text x="326" y="95.5" font-size="9.5" text-anchor="middle" fill="#1c1c1c" class="d">2.60</text>
<line x1="565" y1="100" x2="597.5" y2="100" stroke="#1c1c1c" stroke-width="1.35"/>
<line x1="564.6" y1="102.4" x2="569.4" y2="97.6" stroke="#1c1c1c" stroke-width="1.7"/>
<line x1="593.1" y1="102.4" x2="597.9" y2="97.6" stroke="#1c1c1c" stroke-width="1.7"/>
<text x="581" y="95.5" font-size="9.5" text-anchor="middle" fill="#1c1c1c" class="d">2.60</text>
<text transform="translate(352.3 51) rotate(-90)" font-size="9.5" text-anchor="middle" fill="#1c1c1c" textLength="19" lengthAdjust="spacingAndGlyphs" class="d">6.00</text>
<text transform="translate(352.3 113) rotate(-90)" font-size="9.5" text-anchor="middle" fill="#1c1c1c" textLength="19" lengthAdjust="spacingAndGlyphs" class="d">5.20</text>
<line x1="621.3" y1="60" x2="668.3" y2="60" stroke="#1c1c1c" stroke-width="1.35"/>
<line x1="620.9" y1="62.4" x2="625.7" y2="57.6" stroke="#1c1c1c" stroke-width="1.7"/>
<line x1="663.9" y1="62.4" x2="668.7" y2="57.6" stroke="#1c1c1c" stroke-width="1.7"/>
<text x="643" y="54.8" font-size="9.5" text-anchor="middle" fill="#1c1c1c" class="d">3.90</text>
<line x1="638" y1="74" x2="668.3" y2="74" stroke="#1c1c1c" stroke-width="1.35"/>
<line x1="637.6" y1="76.4" x2="642.4" y2="71.6" stroke="#1c1c1c" stroke-width="1.7"/>
<line x1="663.9" y1="76.4" x2="668.7" y2="71.6" stroke="#1c1c1c" stroke-width="1.7"/>
<text x="655" y="69.3" font-size="9.5" text-anchor="middle" fill="#1c1c1c" class="d">2.40</text>
<line x1="266" y1="50.5" x2="426" y2="50.5" stroke="#222" stroke-width="1.2" stroke-dasharray="22 4 8 4"/>
<line x1="426" y1="50.6" x2="552.5" y2="50.6" stroke="#444" stroke-width="0.9"/>
<line x1="552.5" y1="50.5" x2="700" y2="50.5" stroke="#222" stroke-width="1.2" stroke-dasharray="22 4 8 4"/>
<text x="426" y="48.2" font-size="14.6" fill="#2b2b2b" textLength="126.5" lengthAdjust="spacingAndGlyphs" class="l m">Fire Access Route</text>
<text x="392.5" y="117" font-size="14.8" fill="#2b2b2b" textLength="185" lengthAdjust="spacingAndGlyphs" class="l m">12 Parking Spaces + 1 H.C.</text>
<g><clipPath id="h420"><rect x="625.8" y="86" width="11.8" height="51.5"/></clipPath>
<g clip-path="url(#h420)">
<line x1="624.8" y1="87" x2="638.6" y2="73.2" stroke="#3a3a3a" stroke-width="1.9"/>
<line x1="624.8" y1="91.2" x2="638.6" y2="77.4" stroke="#3a3a3a" stroke-width="1.9"/>
<line x1="624.8" y1="95.4" x2="638.6" y2="81.6" stroke="#3a3a3a" stroke-width="1.9"/>
<line x1="624.8" y1="99.6" x2="638.6" y2="85.8" stroke="#3a3a3a" stroke-width="1.9"/>
<line x1="624.8" y1="103.8" x2="638.6" y2="90" stroke="#3a3a3a" stroke-width="1.9"/>
<line x1="624.8" y1="108" x2="638.6" y2="94.2" stroke="#3a3a3a" stroke-width="1.9"/>
<line x1="624.8" y1="112.2" x2="638.6" y2="98.4" stroke="#3a3a3a" stroke-width="1.9"/>
<line x1="624.8" y1="116.4" x2="638.6" y2="102.6" stroke="#3a3a3a" stroke-width="1.9"/>
<line x1="624.8" y1="120.6" x2="638.6" y2="106.8" stroke="#3a3a3a" stroke-width="1.9"/>
<line x1="624.8" y1="124.8" x2="638.6" y2="111" stroke="#3a3a3a" stroke-width="1.9"/>
<line x1="624.8" y1="129" x2="638.6" y2="115.2" stroke="#3a3a3a" stroke-width="1.9"/>
<line x1="624.8" y1="133.2" x2="638.6" y2="119.4" stroke="#3a3a3a" stroke-width="1.9"/>
<line x1="624.8" y1="137.4" x2="638.6" y2="123.6" stroke="#3a3a3a" stroke-width="1.9"/>
<line x1="624.8" y1="141.6" x2="638.6" y2="127.8" stroke="#3a3a3a" stroke-width="1.9"/>
<line x1="624.8" y1="145.8" x2="638.6" y2="132" stroke="#3a3a3a" stroke-width="1.9"/>
<line x1="624.8" y1="150" x2="638.6" y2="136.2" stroke="#3a3a3a" stroke-width="1.9"/>
<line x1="624.8" y1="154.2" x2="638.6" y2="140.4" stroke="#3a3a3a" stroke-width="1.9"/>
<line x1="624.8" y1="158.4" x2="638.6" y2="144.6" stroke="#3a3a3a" stroke-width="1.9"/>
</g>
<rect x="625.8" y="86" width="11.8" height="51.5" stroke="#666" stroke-width="1.2" fill="none"/>
</g>
<g transform="translate(652.5 103) rotate(0) scale(1)" fill="none" stroke="#1c1c1c" stroke-linecap="round" stroke-linejoin="round">
<circle cx="-1.3" cy="-10.2" r="1.9" stroke-width="1.8"/>
<path d="M-1.6,-7 V1.4 H4.8 L7.6,7.6 L10.4,6.4" stroke-width="2.7"/>
<path d="M-1.6,-3.2 H3.4" stroke-width="1.9"/>
<path d="M-4.8,-2 A7.2,7.2 0 1 0 5.4,8" stroke-width="2.8"/>
</g>
<text x="651" y="128.5" font-size="10.5" text-anchor="middle" fill="#333" class="l m">V</text>
<g>
<rect x="625" y="142" width="19.5" height="7.5" stroke="#1c1c1c" stroke-width="0" fill="#2a2a2a"/>
<rect x="627.2" y="144.75" width="1.9" height="2" stroke="#999" stroke-width="0" fill="#999"/>
<rect x="630.3" y="144.75" width="1.9" height="2" stroke="#999" stroke-width="0" fill="#999"/>
<rect x="633.4" y="144.75" width="1.9" height="2" stroke="#999" stroke-width="0" fill="#999"/>
<rect x="636.5" y="144.75" width="1.9" height="2" stroke="#999" stroke-width="0" fill="#999"/>
<rect x="639.6" y="144.75" width="1.9" height="2" stroke="#999" stroke-width="0" fill="#999"/>
</g>
<text x="624.5" y="158.8" font-size="9" fill="#333" textLength="20.5" lengthAdjust="spacingAndGlyphs" class="d">TWSI</text>
<text x="655" y="152.6" font-size="11" fill="#333" textLength="20" lengthAdjust="spacingAndGlyphs" class="l m">D.C.</text>
<line x1="273.75" y1="141" x2="273.75" y2="302.6" stroke="#1e1e1e" stroke-width="1.3"/>
<line x1="273.75" y1="302.6" x2="288" y2="302.6" stroke="#1e1e1e" stroke-width="1.3"/>
<line x1="290.5" y1="158.3" x2="290.5" y2="261" stroke="#1e1e1e" stroke-width="1.3"/>
<line x1="289.4" y1="158.3" x2="360" y2="158.3" stroke="#1e1e1e" stroke-width="1.3"/>
<line x1="418" y1="158.3" x2="534.6" y2="158.3" stroke="#1e1e1e" stroke-width="1.3"/>
<line x1="592.6" y1="158.3" x2="683.5" y2="158.3" stroke="#1e1e1e" stroke-width="1.3"/>
<line x1="666" y1="142.3" x2="687.5" y2="142.3" stroke="#1e1e1e" stroke-width="1.3"/>
<line x1="650.5" y1="150" x2="650.5" y2="245" stroke="#1e1e1e" stroke-width="1.3" stroke-dasharray="10 4"/>
<text x="411" y="153" font-size="11" fill="#222" textLength="120" lengthAdjust="spacingAndGlyphs" class="d">1.5m Asphalt Sidewalk</text>
<line x1="334.4" y1="137" x2="334.4" y2="490" stroke="#1c1c1c" stroke-width="1.35"/>
<line x1="332" y1="143.4" x2="336.8" y2="138.6" stroke="#1c1c1c" stroke-width="1.7"/>
<line x1="332" y1="189.9" x2="336.8" y2="185.1" stroke="#1c1c1c" stroke-width="1.7"/>
<text transform="translate(330.5 165) rotate(-90)" font-size="9.5" text-anchor="middle" fill="#1c1c1c" textLength="19" lengthAdjust="spacingAndGlyphs" class="d">4.50</text>
<line x1="628.6" y1="142" x2="628.6" y2="332" stroke="#1c1c1c" stroke-width="1.35"/>
<line x1="626.2" y1="192.4" x2="631" y2="187.6" stroke="#1c1c1c" stroke-width="1.7"/>
<text transform="translate(623.3 165) rotate(-90)" font-size="9.5" text-anchor="middle" fill="#1c1c1c" textLength="19" lengthAdjust="spacingAndGlyphs" class="d">4.50</text>
<path d="M693.2,187.5 C686,215 681.5,260 681.25,300 V428.75 H732.5 A8.75,8.75 0 0 1 732.5,446.25 H681.25 V675 H727 C735,675 739,681 738.75,690 C738,708 724,728.75 700,728.75 H646 Q638,728.75 638,720 V674.5 H282.5 V716 Q282.5,724.5 275,724.5 H266 V796 H275 Q282.5,796 282.5,804 V853 H651.8 V804 Q651.8,796 660,796 H700.7 C722,796 735,808 733.5,819 C732.5,825.5 728,828.3 721,828.3 H680.6 V985" stroke="#1c1c1c" stroke-width="3.9" fill="none" stroke-linejoin="round"/>
<line x1="273.75" y1="674" x2="273.75" y2="512.4" stroke="#1e1e1e" stroke-width="1.3"/>
<line x1="273.75" y1="512.4" x2="288" y2="512.4" stroke="#1e1e1e" stroke-width="1.3"/>
<line x1="290.5" y1="656.7" x2="290.5" y2="554" stroke="#1e1e1e" stroke-width="1.3"/>
<line x1="289.4" y1="656.7" x2="360" y2="656.7" stroke="#1e1e1e" stroke-width="1.3"/>
<line x1="418" y1="656.7" x2="534.6" y2="656.7" stroke="#1e1e1e" stroke-width="1.3"/>
<line x1="273.75" y1="853.5" x2="273.75" y2="1015.1" stroke="#1e1e1e" stroke-width="1.3"/>
<line x1="273.75" y1="1015.1" x2="288" y2="1015.1" stroke="#1e1e1e" stroke-width="1.3"/>
<line x1="290.5" y1="870.8" x2="290.5" y2="973.5" stroke="#1e1e1e" stroke-width="1.3"/>
<line x1="289.4" y1="870.8" x2="360" y2="870.8" stroke="#1e1e1e" stroke-width="1.3"/>
<line x1="418" y1="870.8" x2="534.6" y2="870.8" stroke="#1e1e1e" stroke-width="1.3"/>
<line x1="592.6" y1="656.7" x2="665" y2="656.7" stroke="#1e1e1e" stroke-width="1.3"/>
<line x1="591.6" y1="870.8" x2="664.8" y2="870.8" stroke="#1e1e1e" stroke-width="1.3"/>
<line x1="664.8" y1="870.8" x2="664.8" y2="981" stroke="#1e1e1e" stroke-width="1.3"/>
<line x1="665" y1="305" x2="665" y2="796" stroke="#1e1e1e" stroke-width="1.3"/>
<line x1="660.5" y1="337" x2="660.5" y2="478" stroke="#1e1e1e" stroke-width="1.3"/>
<path d="M712.5,0 C709,20 700,80 690,145 C684,180 672,225 667,245 C664.5,262 663,290 665,305" stroke="#1e1e1e" stroke-width="1.3" fill="none"/>
<path d="M730,0 C722,40 708,95 701,130 L693.2,187.5" stroke="#1e1e1e" stroke-width="1.3" fill="none"/>
<line x1="298.8" y1="329" x2="298.8" y2="486" stroke="#222" stroke-width="1.2" stroke-dasharray="16 4"/>
<line x1="651.3" y1="337" x2="651.3" y2="480" stroke="#222" stroke-width="1.2" stroke-dasharray="16 4"/>
<line x1="651.3" y1="621" x2="651.3" y2="675" stroke="#222" stroke-width="1.2" stroke-dasharray="16 4"/>
<line x1="651.3" y1="853" x2="651.3" y2="898" stroke="#222" stroke-width="1.2" stroke-dasharray="16 4"/>
<line x1="298.8" y1="621" x2="298.8" y2="905" stroke="#222" stroke-width="1.2" stroke-dasharray="16 3 6 3"/>
<line x1="334.8" y1="490" x2="334.8" y2="981" stroke="#1c1c1c" stroke-width="1.35"/>
<line x1="332.4" y1="331.4" x2="337.2" y2="326.6" stroke="#1c1c1c" stroke-width="1.7"/>
<line x1="332.4" y1="409.9" x2="337.2" y2="405.1" stroke="#1c1c1c" stroke-width="1.7"/>
<line x1="332.4" y1="488.4" x2="337.2" y2="483.6" stroke="#1c1c1c" stroke-width="1.7"/>
<line x1="332.4" y1="623.4" x2="337.2" y2="618.6" stroke="#1c1c1c" stroke-width="1.7"/>
<line x1="332.4" y1="676.9" x2="337.2" y2="672.1" stroke="#1c1c1c" stroke-width="1.7"/>
<line x1="332.4" y1="729.9" x2="337.2" y2="725.1" stroke="#1c1c1c" stroke-width="1.7"/>
<line x1="332.4" y1="797.4" x2="337.2" y2="792.6" stroke="#1c1c1c" stroke-width="1.7"/>
<line x1="332.4" y1="855.4" x2="337.2" y2="850.6" stroke="#1c1c1c" stroke-width="1.7"/>
<line x1="332.4" y1="907.4" x2="337.2" y2="902.6" stroke="#1c1c1c" stroke-width="1.7"/>
<line x1="629" y1="332" x2="629" y2="676" stroke="#1c1c1c" stroke-width="1.35"/>
<line x1="626.6" y1="331.4" x2="631.4" y2="326.6" stroke="#1c1c1c" stroke-width="1.7"/>
<line x1="626.6" y1="488.4" x2="631.4" y2="483.6" stroke="#1c1c1c" stroke-width="1.7"/>
<line x1="626.6" y1="623.4" x2="631.4" y2="618.6" stroke="#1c1c1c" stroke-width="1.7"/>
<line x1="626.6" y1="676.4" x2="631.4" y2="671.6" stroke="#1c1c1c" stroke-width="1.7"/>
<line x1="633.5" y1="849" x2="633.5" y2="981" stroke="#1c1c1c" stroke-width="1.35"/>
<line x1="631.1" y1="855.4" x2="635.9" y2="850.6" stroke="#1c1c1c" stroke-width="1.7"/>
<line x1="631.1" y1="907.4" x2="635.9" y2="902.6" stroke="#1c1c1c" stroke-width="1.7"/>
<text transform="translate(330.5 259) rotate(-90)" font-size="9.5" text-anchor="middle" fill="#1c1c1c" textLength="24" lengthAdjust="spacingAndGlyphs" class="d">13.06</text>
<text transform="translate(330.5 369) rotate(-90)" font-size="9.5" text-anchor="middle" fill="#1c1c1c" textLength="19" lengthAdjust="spacingAndGlyphs" class="d">7.00</text>
<text transform="translate(330.5 445) rotate(-90)" font-size="9.5" text-anchor="middle" fill="#1c1c1c" textLength="19" lengthAdjust="spacingAndGlyphs" class="d">7.00</text>
<text transform="translate(330.5 554) rotate(-90)" font-size="9.5" text-anchor="middle" fill="#1c1c1c" textLength="24" lengthAdjust="spacingAndGlyphs" class="d">13.06</text>
<text transform="translate(330.5 646) rotate(-90)" font-size="9.5" text-anchor="middle" fill="#1c1c1c" textLength="19" lengthAdjust="spacingAndGlyphs" class="d">4.50</text>
<text transform="translate(330.5 702.5) rotate(-90)" font-size="9.5" text-anchor="middle" fill="#1c1c1c" textLength="19" lengthAdjust="spacingAndGlyphs" class="d">5.20</text>
<text transform="translate(330.5 764) rotate(-90)" font-size="9.5" text-anchor="middle" fill="#1c1c1c" textLength="19" lengthAdjust="spacingAndGlyphs" class="d">6.00</text>
<text transform="translate(330.5 824) rotate(-90)" font-size="9.5" text-anchor="middle" fill="#1c1c1c" textLength="19" lengthAdjust="spacingAndGlyphs" class="d">5.20</text>
<text transform="translate(330.5 871.5) rotate(-90)" font-size="9.5" text-anchor="middle" fill="#1c1c1c" textLength="19" lengthAdjust="spacingAndGlyphs" class="d">4.50</text>
<text transform="translate(330.5 971) rotate(-90)" font-size="9.5" text-anchor="middle" fill="#1c1c1c" textLength="24" lengthAdjust="spacingAndGlyphs" class="d">13.06</text>
<text transform="translate(624 260) rotate(-82)" font-size="9.5" text-anchor="middle" fill="#1c1c1c" textLength="24" lengthAdjust="spacingAndGlyphs" class="d">13.06</text>
<text transform="translate(624 559) rotate(-80)" font-size="9.5" text-anchor="middle" fill="#1c1c1c" textLength="24" lengthAdjust="spacingAndGlyphs" class="d">13.06</text>
<text transform="translate(624 407.5) rotate(-90)" font-size="9.5" text-anchor="middle" fill="#1c1c1c" textLength="24" lengthAdjust="spacingAndGlyphs" class="d">14.00</text>
<text transform="translate(624 650) rotate(-90)" font-size="9.5" text-anchor="middle" fill="#1c1c1c" textLength="19" lengthAdjust="spacingAndGlyphs" class="d">4.50</text>
<text transform="translate(629.5 876) rotate(-90)" font-size="9.5" text-anchor="middle" fill="#1c1c1c" textLength="19" lengthAdjust="spacingAndGlyphs" class="d">4.50</text>
<text transform="translate(629.5 970) rotate(-90)" font-size="9.5" text-anchor="middle" fill="#1c1c1c" textLength="24" lengthAdjust="spacingAndGlyphs" class="d">13.06</text>
<line x1="300" y1="312.5" x2="681" y2="312.5" stroke="#1c1c1c" stroke-width="1.35"/>
<line x1="298.6" y1="314.9" x2="303.4" y2="310.1" stroke="#1c1c1c" stroke-width="1.7"/>
<line x1="648.6" y1="314.9" x2="653.4" y2="310.1" stroke="#1c1c1c" stroke-width="1.7"/>
<line x1="678.6" y1="314.9" x2="683.4" y2="310.1" stroke="#1c1c1c" stroke-width="1.7"/>
<line x1="300" y1="502.5" x2="681" y2="502.5" stroke="#1c1c1c" stroke-width="1.35"/>
<line x1="298.6" y1="504.9" x2="303.4" y2="500.1" stroke="#1c1c1c" stroke-width="1.7"/>
<line x1="648.6" y1="504.9" x2="653.4" y2="500.1" stroke="#1c1c1c" stroke-width="1.7"/>
<line x1="678.6" y1="504.9" x2="683.4" y2="500.1" stroke="#1c1c1c" stroke-width="1.7"/>
<text x="464" y="307.8" font-size="9.5" fill="#1c1c1c" textLength="25" lengthAdjust="spacingAndGlyphs" class="d">32.41</text>
<text x="464" y="497.8" font-size="9.5" fill="#1c1c1c" textLength="25" lengthAdjust="spacingAndGlyphs" class="d">32.41</text>
<text x="657" y="307.8" font-size="9.5" fill="#1c1c1c" textLength="20" lengthAdjust="spacingAndGlyphs" class="d">2.75</text>
<text x="656.5" y="498" font-size="9.5" fill="#1c1c1c" textLength="20" lengthAdjust="spacingAndGlyphs" class="d">2.75</text>
<line x1="312.5" y1="675" x2="312.5" y2="728" stroke="#1c1c1c" stroke-width="1.7"/>
<line x1="340" y1="675" x2="340" y2="728" stroke="#1c1c1c" stroke-width="1.7"/>
<line x1="368.75" y1="675" x2="368.75" y2="728" stroke="#1c1c1c" stroke-width="1.7"/>
<line x1="396.75" y1="675" x2="396.75" y2="728" stroke="#1c1c1c" stroke-width="1.7"/>
<line x1="425" y1="675" x2="425" y2="728" stroke="#1c1c1c" stroke-width="1.7"/>
<line x1="453.25" y1="675" x2="453.25" y2="728" stroke="#1c1c1c" stroke-width="1.7"/>
<line x1="481.75" y1="675" x2="481.75" y2="728" stroke="#1c1c1c" stroke-width="1.7"/>
<line x1="510.5" y1="675" x2="510.5" y2="728" stroke="#1c1c1c" stroke-width="1.7"/>
<line x1="538.75" y1="675" x2="538.75" y2="728" stroke="#1c1c1c" stroke-width="1.7"/>
<line x1="567" y1="675" x2="567" y2="728" stroke="#1c1c1c" stroke-width="1.7"/>
<line x1="595" y1="675" x2="595" y2="762" stroke="#1c1c1c" stroke-width="1.7"/>
<line x1="312.7" y1="795" x2="312.7" y2="852" stroke="#1c1c1c" stroke-width="1.7"/>
<line x1="340.3" y1="795" x2="340.3" y2="852" stroke="#1c1c1c" stroke-width="1.7"/>
<line x1="368.6" y1="795" x2="368.6" y2="852" stroke="#1c1c1c" stroke-width="1.7"/>
<line x1="396.7" y1="795" x2="396.7" y2="852" stroke="#1c1c1c" stroke-width="1.7"/>
<line x1="425" y1="795" x2="425" y2="852" stroke="#1c1c1c" stroke-width="1.7"/>
<line x1="453" y1="795" x2="453" y2="852" stroke="#1c1c1c" stroke-width="1.7"/>
<line x1="481.5" y1="795" x2="481.5" y2="852" stroke="#1c1c1c" stroke-width="1.7"/>
<line x1="509.6" y1="795" x2="509.6" y2="852" stroke="#1c1c1c" stroke-width="1.7"/>
<line x1="538.4" y1="795" x2="538.4" y2="852" stroke="#1c1c1c" stroke-width="1.7"/>
<line x1="567" y1="795" x2="567" y2="852" stroke="#1c1c1c" stroke-width="1.7"/>
<line x1="595.4" y1="795" x2="595.4" y2="852" stroke="#1c1c1c" stroke-width="1.7"/>
<line x1="623.5" y1="795" x2="623.5" y2="852" stroke="#1c1c1c" stroke-width="1.7"/>
<line x1="334.8" y1="795" x2="340.3" y2="795" stroke="#1c1c1c" stroke-width="1.7"/>
<line x1="338" y1="729.3" x2="370.75" y2="729.3" stroke="#1c1c1c" stroke-width="1.35"/>
<line x1="337.6" y1="731.7" x2="342.4" y2="726.9" stroke="#1c1c1c" stroke-width="1.7"/>
<line x1="366.35" y1="731.7" x2="371.15" y2="726.9" stroke="#1c1c1c" stroke-width="1.7"/>
<text x="354.5" y="726" font-size="9.5" text-anchor="middle" fill="#1c1c1c" class="d">2.60</text>
<line x1="565" y1="728.8" x2="597" y2="728.8" stroke="#1c1c1c" stroke-width="1.35"/>
<line x1="564.6" y1="731.2" x2="569.4" y2="726.4" stroke="#1c1c1c" stroke-width="1.7"/>
<line x1="592.6" y1="731.2" x2="597.4" y2="726.4" stroke="#1c1c1c" stroke-width="1.7"/>
<text x="580.5" y="725" font-size="9.5" text-anchor="middle" fill="#1c1c1c" class="d">2.60</text>
<line x1="338.3" y1="816.6" x2="370.6" y2="816.6" stroke="#1c1c1c" stroke-width="1.35"/>
<line x1="337.9" y1="819" x2="342.7" y2="814.2" stroke="#1c1c1c" stroke-width="1.7"/>
<line x1="366.2" y1="819" x2="371" y2="814.2" stroke="#1c1c1c" stroke-width="1.7"/>
<text x="354" y="813" font-size="9.5" text-anchor="middle" fill="#1c1c1c" class="d">2.60</text>
<line x1="565" y1="817" x2="597.4" y2="817" stroke="#1c1c1c" stroke-width="1.35"/>
<line x1="564.6" y1="819.4" x2="569.4" y2="814.6" stroke="#1c1c1c" stroke-width="1.7"/>
<line x1="593" y1="819.4" x2="597.8" y2="814.6" stroke="#1c1c1c" stroke-width="1.7"/>
<text x="580.5" y="812.6" font-size="9.5" text-anchor="middle" fill="#1c1c1c" class="d">2.60</text>
<line x1="611" y1="675" x2="611" y2="746" stroke="#1e1e1e" stroke-width="1.3" stroke-dasharray="4 2"/>
<line x1="638" y1="729" x2="638" y2="762" stroke="#1c1c1c" stroke-width="1.35"/>
<line x1="609" y1="744" x2="640" y2="744" stroke="#1c1c1c" stroke-width="1.35"/>
<line x1="608.6" y1="746.4" x2="613.4" y2="741.6" stroke="#1c1c1c" stroke-width="1.7"/>
<line x1="635.6" y1="746.4" x2="640.4" y2="741.6" stroke="#1c1c1c" stroke-width="1.7"/>
<text x="625" y="740" font-size="9.5" text-anchor="middle" fill="#1c1c1c" class="d">2.40</text>
<line x1="593" y1="760" x2="640" y2="760" stroke="#1c1c1c" stroke-width="1.35"/>
<line x1="592.6" y1="762.4" x2="597.4" y2="757.6" stroke="#1c1c1c" stroke-width="1.7"/>
<line x1="635.6" y1="762.4" x2="640.4" y2="757.6" stroke="#1c1c1c" stroke-width="1.7"/>
<text x="615.5" y="756" font-size="9.5" text-anchor="middle" fill="#1c1c1c" class="d">3.90</text>
<text transform="translate(651.6 764) rotate(-90)" font-size="9.5" text-anchor="middle" fill="#1c1c1c" textLength="19" lengthAdjust="spacingAndGlyphs" class="d">6.00</text>
<text x="371" y="713.5" font-size="14.8" fill="#2b2b2b" textLength="186.5" lengthAdjust="spacingAndGlyphs" class="l m">11 Parking Spaces + 1 H.C.</text>
<text x="401.75" y="824.5" font-size="14.8" fill="#2b2b2b" textLength="130" lengthAdjust="spacingAndGlyphs" class="l m">13 Parking Spaces</text>
<text x="412.5" y="668" font-size="11" fill="#222" textLength="119" lengthAdjust="spacingAndGlyphs" class="d">1.5m Asphalt Sidewalk</text>
<text x="413" y="867" font-size="11" fill="#222" textLength="119" lengthAdjust="spacingAndGlyphs" class="d">1.5m Asphalt Sidewalk</text>
<g>
<rect x="596" y="665" width="20" height="6.5" stroke="#1c1c1c" stroke-width="0" fill="#2a2a2a"/>
<rect x="598.2" y="667.25" width="1.9" height="2" stroke="#999" stroke-width="0" fill="#999"/>
<rect x="601.4" y="667.25" width="1.9" height="2" stroke="#999" stroke-width="0" fill="#999"/>
<rect x="604.6" y="667.25" width="1.9" height="2" stroke="#999" stroke-width="0" fill="#999"/>
<rect x="607.8" y="667.25" width="1.9" height="2" stroke="#999" stroke-width="0" fill="#999"/>
<rect x="611" y="667.25" width="1.9" height="2" stroke="#999" stroke-width="0" fill="#999"/>
</g>
<text x="595" y="662.3" font-size="9" fill="#333" textLength="21" lengthAdjust="spacingAndGlyphs" class="d">TWSI</text>
<g><clipPath id="h609"><rect x="596" y="675.5" width="14" height="52"/></clipPath>
<g clip-path="url(#h609)">
<line x1="595" y1="676.5" x2="611" y2="660.5" stroke="#3a3a3a" stroke-width="1.9"/>
<line x1="595" y1="680.7" x2="611" y2="664.7" stroke="#3a3a3a" stroke-width="1.9"/>
<line x1="595" y1="684.9" x2="611" y2="668.9" stroke="#3a3a3a" stroke-width="1.9"/>
<line x1="595" y1="689.1" x2="611" y2="673.1" stroke="#3a3a3a" stroke-width="1.9"/>
<line x1="595" y1="693.3" x2="611" y2="677.3" stroke="#3a3a3a" stroke-width="1.9"/>
<line x1="595" y1="697.5" x2="611" y2="681.5" stroke="#3a3a3a" stroke-width="1.9"/>
<line x1="595" y1="701.7" x2="611" y2="685.7" stroke="#3a3a3a" stroke-width="1.9"/>
<line x1="595" y1="705.9" x2="611" y2="689.9" stroke="#3a3a3a" stroke-width="1.9"/>
<line x1="595" y1="710.1" x2="611" y2="694.1" stroke="#3a3a3a" stroke-width="1.9"/>
<line x1="595" y1="714.3" x2="611" y2="698.3" stroke="#3a3a3a" stroke-width="1.9"/>
<line x1="595" y1="718.5" x2="611" y2="702.5" stroke="#3a3a3a" stroke-width="1.9"/>
<line x1="595" y1="722.7" x2="611" y2="706.7" stroke="#3a3a3a" stroke-width="1.9"/>
<line x1="595" y1="726.9" x2="611" y2="710.9" stroke="#3a3a3a" stroke-width="1.9"/>
<line x1="595" y1="731.1" x2="611" y2="715.1" stroke="#3a3a3a" stroke-width="1.9"/>
<line x1="595" y1="735.3" x2="611" y2="719.3" stroke="#3a3a3a" stroke-width="1.9"/>
<line x1="595" y1="739.5" x2="611" y2="723.5" stroke="#3a3a3a" stroke-width="1.9"/>
<line x1="595" y1="743.7" x2="611" y2="727.7" stroke="#3a3a3a" stroke-width="1.9"/>
<line x1="595" y1="747.9" x2="611" y2="731.9" stroke="#3a3a3a" stroke-width="1.9"/>
<line x1="595" y1="752.1" x2="611" y2="736.1" stroke="#3a3a3a" stroke-width="1.9"/>
<line x1="595" y1="756.3" x2="611" y2="740.3" stroke="#3a3a3a" stroke-width="1.9"/>
</g>
<rect x="596" y="675.5" width="14" height="52" stroke="#666" stroke-width="1.2" fill="none"/>
</g>
<g transform="translate(623.8 706.5) rotate(0) scale(1)" fill="none" stroke="#1c1c1c" stroke-linecap="round" stroke-linejoin="round">
<circle cx="-1.3" cy="-10.2" r="1.9" stroke-width="1.8"/>
<path d="M-1.6,-7 V1.4 H4.8 L7.6,7.6 L10.4,6.4" stroke-width="2.7"/>
<path d="M-1.6,-3.2 H3.4" stroke-width="1.9"/>
<path d="M-4.8,-2 A7.2,7.2 0 1 0 5.4,8" stroke-width="2.8"/>
</g>
<text x="625" y="688" font-size="10.5" text-anchor="middle" fill="#333" class="l m">V</text>
<line x1="654.8" y1="727" x2="654.8" y2="798" stroke="#1c1c1c" stroke-width="1.35"/>
<line x1="652.4" y1="731.4" x2="657.2" y2="726.6" stroke="#1c1c1c" stroke-width="1.7"/>
<line x1="652.4" y1="798.4" x2="657.2" y2="793.6" stroke="#1c1c1c" stroke-width="1.7"/>
<line x1="680.6" y1="675" x2="680.6" y2="796" stroke="#1e1e1e" stroke-width="1.3"/>
<text x="664" y="740" font-size="11" fill="#333" textLength="17" lengthAdjust="spacingAndGlyphs" class="l m">D.C.</text>
<text x="664" y="794" font-size="11" fill="#333" textLength="17" lengthAdjust="spacingAndGlyphs" class="l m">D.C.</text>
<rect x="681.5" y="682.5" width="34.5" height="36.2" stroke="#1e1e1e" stroke-width="1.3" fill="none" stroke-dasharray="5 2.5"/>
<circle cx="685.5" cy="687.5" r="2" stroke="#1c1c1c" stroke-width="1.4" fill="none"/>
<circle cx="711.5" cy="687.5" r="2" stroke="#1c1c1c" stroke-width="1.4" fill="none"/>
<circle cx="685.5" cy="713.5" r="2" stroke="#1c1c1c" stroke-width="1.4" fill="none"/>
<circle cx="711.5" cy="713.5" r="2" stroke="#1c1c1c" stroke-width="1.4" fill="none"/>
<rect x="690.8" y="694.6" width="13.5" height="14.6" stroke="#1c1c1c" stroke-width="1.4" fill="none"/>
<line x1="690.8" y1="694.6" x2="704.3" y2="709.2" stroke="#1c1c1c" stroke-width="1"/>
<line x1="704.3" y1="694.6" x2="690.8" y2="709.2" stroke="#1c1c1c" stroke-width="1"/>
<line x1="681.25" y1="313" x2="740" y2="313" stroke="#1c1c1c" stroke-width="1.7"/>
<line x1="681.25" y1="341.25" x2="740" y2="341.25" stroke="#1c1c1c" stroke-width="1.7"/>
<line x1="681.25" y1="370" x2="740" y2="370" stroke="#1c1c1c" stroke-width="1.7"/>
<line x1="681.25" y1="398.25" x2="740" y2="398.25" stroke="#1c1c1c" stroke-width="1.7"/>
<line x1="683.4" y1="284.9" x2="740" y2="285.3" stroke="#1c1c1c" stroke-width="1.7"/>
<line x1="685" y1="252.3" x2="742" y2="257.3" stroke="#1c1c1c" stroke-width="1.7"/>
<line x1="688" y1="219.7" x2="744" y2="228.8" stroke="#1c1c1c" stroke-width="1.7"/>
<line x1="689" y1="212.5" x2="747" y2="219.7" stroke="#1c1c1c" stroke-width="1.35"/>
<line x1="745.05" y1="222.49" x2="748.95" y2="216.91" stroke="#1c1c1c" stroke-width="1.7"/>
<line x1="687.55" y1="215.39" x2="691.45" y2="209.81" stroke="#1c1c1c" stroke-width="1.7"/>
<line x1="747.5" y1="216" x2="744" y2="232" stroke="#1c1c1c" stroke-width="1.35"/>
<line x1="731.9" y1="224.7" x2="729.2" y2="257.3" stroke="#1c1c1c" stroke-width="1.35"/>
<line x1="729.41" y1="229.9" x2="733.79" y2="224.7" stroke="#1c1c1c" stroke-width="1.7"/>
<line x1="727.31" y1="258.4" x2="731.69" y2="253.2" stroke="#1c1c1c" stroke-width="1.7"/>
<text transform="translate(718.6 210.5) rotate(7)" font-size="9.5" text-anchor="middle" fill="#1c1c1c" textLength="19" lengthAdjust="spacingAndGlyphs" class="d">5.20</text>
<text transform="translate(726.5 240.5) rotate(-84)" font-size="9.5" text-anchor="middle" fill="#1c1c1c" textLength="19" lengthAdjust="spacingAndGlyphs" class="d">2.60</text>
<line x1="681.25" y1="474.65" x2="740" y2="474.65" stroke="#1c1c1c" stroke-width="1.7"/>
<line x1="681.25" y1="503.75" x2="740" y2="503.75" stroke="#1c1c1c" stroke-width="1.7"/>
<line x1="681.25" y1="532.5" x2="740" y2="532.5" stroke="#1c1c1c" stroke-width="1.7"/>
<line x1="681.25" y1="560.75" x2="740" y2="560.75" stroke="#1c1c1c" stroke-width="1.7"/>
<line x1="681.25" y1="589.25" x2="740" y2="589.25" stroke="#1c1c1c" stroke-width="1.7"/>
<line x1="681.25" y1="617.5" x2="740" y2="617.5" stroke="#1c1c1c" stroke-width="1.7"/>
<line x1="681.25" y1="645.5" x2="740" y2="645.5" stroke="#1c1c1c" stroke-width="1.7"/>
<line x1="680.6" y1="863.4" x2="739.5" y2="863.4" stroke="#1c1c1c" stroke-width="1.7"/>
<line x1="680.6" y1="891.7" x2="739.5" y2="891.7" stroke="#1c1c1c" stroke-width="1.7"/>
<line x1="680.6" y1="920" x2="739.5" y2="920" stroke="#1c1c1c" stroke-width="1.7"/>
<line x1="680.6" y1="948.7" x2="739.5" y2="948.7" stroke="#1c1c1c" stroke-width="1.7"/>
<line x1="680.6" y1="977" x2="739.5" y2="977" stroke="#1c1c1c" stroke-width="1.7"/>
<line x1="728.75" y1="366" x2="728.75" y2="402" stroke="#1c1c1c" stroke-width="1.35"/>
<line x1="726.35" y1="372.4" x2="731.15" y2="367.6" stroke="#1c1c1c" stroke-width="1.7"/>
<line x1="726.35" y1="400.65" x2="731.15" y2="395.85" stroke="#1c1c1c" stroke-width="1.7"/>
<text transform="translate(724.3 384) rotate(-90)" font-size="9.5" text-anchor="middle" fill="#1c1c1c" textLength="19" lengthAdjust="spacingAndGlyphs" class="d">2.60</text>
<line x1="728.75" y1="471" x2="728.75" y2="507" stroke="#1c1c1c" stroke-width="1.35"/>
<line x1="726.35" y1="477.05" x2="731.15" y2="472.25" stroke="#1c1c1c" stroke-width="1.7"/>
<line x1="726.35" y1="506.15" x2="731.15" y2="501.35" stroke="#1c1c1c" stroke-width="1.7"/>
<text transform="translate(724.3 489) rotate(-90)" font-size="9.5" text-anchor="middle" fill="#1c1c1c" textLength="19" lengthAdjust="spacingAndGlyphs" class="d">2.60</text>
<line x1="681" y1="517" x2="740" y2="517" stroke="#1c1c1c" stroke-width="1.35"/>
<line x1="679.1" y1="519.4" x2="683.9" y2="514.6" stroke="#1c1c1c" stroke-width="1.7"/>
<line x1="735.85" y1="519.4" x2="740.65" y2="514.6" stroke="#1c1c1c" stroke-width="1.7"/>
<text x="710" y="515" font-size="9.5" text-anchor="middle" fill="#1c1c1c" textLength="19" lengthAdjust="spacingAndGlyphs" class="d">5.20</text>
<line x1="738.25" y1="517" x2="738.25" y2="532.5" stroke="#1c1c1c" stroke-width="1.35"/>
<line x1="736" y1="603.75" x2="860" y2="603.75" stroke="#1c1c1c" stroke-width="1.35"/>
<line x1="735.85" y1="606.15" x2="740.65" y2="601.35" stroke="#1c1c1c" stroke-width="1.7"/>
<line x1="803.6" y1="606.15" x2="808.4" y2="601.35" stroke="#1c1c1c" stroke-width="1.7"/>
<line x1="856.1" y1="606.15" x2="860.9" y2="601.35" stroke="#1c1c1c" stroke-width="1.7"/>
<text x="770.5" y="599.5" font-size="9.5" text-anchor="middle" fill="#1c1c1c" textLength="19" lengthAdjust="spacingAndGlyphs" class="d">6.00</text>
<text x="831" y="599.5" font-size="9.5" text-anchor="middle" fill="#1c1c1c" textLength="19" lengthAdjust="spacingAndGlyphs" class="d">5.00</text>
<line x1="738.25" y1="603.75" x2="738.25" y2="617" stroke="#1c1c1c" stroke-width="1.35"/>
<line x1="728.75" y1="617" x2="738.25" y2="617" stroke="#1c1c1c" stroke-width="1.35"/>
<line x1="728.75" y1="612" x2="728.75" y2="648" stroke="#1c1c1c" stroke-width="1.35"/>
<line x1="726.35" y1="619.9" x2="731.15" y2="615.1" stroke="#1c1c1c" stroke-width="1.7"/>
<line x1="726.35" y1="647.9" x2="731.15" y2="643.1" stroke="#1c1c1c" stroke-width="1.7"/>
<text transform="translate(724.3 631) rotate(-90)" font-size="9.5" text-anchor="middle" fill="#1c1c1c" textLength="19" lengthAdjust="spacingAndGlyphs" class="d">2.60</text>
<line x1="680.6" y1="853" x2="806" y2="853" stroke="#1c1c1c" stroke-width="1.35"/>
<line x1="678.6" y1="855.4" x2="683.4" y2="850.6" stroke="#1c1c1c" stroke-width="1.7"/>
<line x1="737.1" y1="855.4" x2="741.9" y2="850.6" stroke="#1c1c1c" stroke-width="1.7"/>
<line x1="803.6" y1="855.4" x2="808.4" y2="850.6" stroke="#1c1c1c" stroke-width="1.7"/>
<text x="710" y="849" font-size="9.5" text-anchor="middle" fill="#1c1c1c" textLength="19" lengthAdjust="spacingAndGlyphs" class="d">5.20</text>
<text x="770.5" y="849" font-size="9.5" text-anchor="middle" fill="#1c1c1c" textLength="19" lengthAdjust="spacingAndGlyphs" class="d">6.00</text>
<line x1="739.5" y1="853" x2="739.5" y2="863.4" stroke="#1c1c1c" stroke-width="1.35"/>
<line x1="729.5" y1="863.4" x2="739.5" y2="863.4" stroke="#1c1c1c" stroke-width="1.35"/>
<line x1="729.5" y1="858" x2="729.5" y2="895" stroke="#1c1c1c" stroke-width="1.35"/>
<line x1="727.1" y1="865.8" x2="731.9" y2="861" stroke="#1c1c1c" stroke-width="1.7"/>
<line x1="727.1" y1="894.1" x2="731.9" y2="889.3" stroke="#1c1c1c" stroke-width="1.7"/>
<text transform="translate(725 878) rotate(-90)" font-size="9.5" text-anchor="middle" fill="#1c1c1c" textLength="19" lengthAdjust="spacingAndGlyphs" class="d">2.60</text>
<text transform="translate(714 372) rotate(-90)" font-size="15" fill="#2b2b2b" textLength="124" lengthAdjust="spacingAndGlyphs" class="l m">8 Parking Spaces</text>
<text transform="translate(714 644) rotate(-90)" font-size="15" fill="#2b2b2b" textLength="130" lengthAdjust="spacingAndGlyphs" class="l m">8 Parking Spaces</text>
<text transform="translate(714 1024) rotate(-90)" font-size="15" fill="#2b2b2b" textLength="130" lengthAdjust="spacingAndGlyphs" class="l m">8 Parking Spaces</text>
<text transform="translate(677 670) rotate(-90)" font-size="11" fill="#222" textLength="121" lengthAdjust="spacingAndGlyphs" class="d">1.5m Asphalt Sidewalk</text>
<text transform="translate(677 984) rotate(-90)" font-size="11" fill="#222" textLength="121" lengthAdjust="spacingAndGlyphs" class="d">1.5m Asphalt Sidewalk</text>
<text transform="translate(678.5 235) rotate(-78)" font-size="11" fill="#222" textLength="120" lengthAdjust="spacingAndGlyphs" class="d">1.5m Asphalt Sidewalk</text>
<text transform="translate(711 410) rotate(-90)" font-size="10.5" text-anchor="middle" fill="#333" class="l m">V</text>
<text transform="translate(700 630) rotate(-90)" font-size="10.5" text-anchor="middle" fill="#333" class="l m">V</text>
<text transform="translate(701 656) rotate(-90)" font-size="10.5" text-anchor="middle" fill="#333" class="l m">V</text>
<line x1="741" y1="428.75" x2="806" y2="428.75" stroke="#1e1e1e" stroke-width="1.3"/>
<line x1="741" y1="444.5" x2="806" y2="444.5" stroke="#1e1e1e" stroke-width="1.3"/>
<text x="741" y="444" font-size="11" fill="#333" textLength="21" lengthAdjust="spacingAndGlyphs" class="l m">D.C.</text>
<text x="784" y="444" font-size="11" fill="#333" textLength="21" lengthAdjust="spacingAndGlyphs" class="l m">D.C.</text>
<line x1="771.3" y1="357" x2="771.3" y2="677" stroke="#222" stroke-width="1.2" stroke-dasharray="22 4 8 4"/>
<line x1="771.3" y1="677" x2="771.3" y2="806" stroke="#444" stroke-width="0.9"/>
<line x1="771.3" y1="806" x2="771.3" y2="875" stroke="#222" stroke-width="1.2" stroke-dasharray="22 4 8 4"/>
<text transform="translate(766.5 806) rotate(-90)" font-size="14.6" fill="#2b2b2b" textLength="128.5" lengthAdjust="spacingAndGlyphs" class="l m">Fire Access Route</text>
<path d="M863.5,445.1 H815 C806,445 801.5,438 803.5,430.5 C806,421 813,416.3 821,416.3 H829 L903.5,448.6 C911,452 914.5,456 911.5,463 L891.7,505 L1063.4,581.9 L1082.2,538.5" stroke="#1c1c1c" stroke-width="3.9" fill="none" stroke-linejoin="round"/>
<line x1="863" y1="445" x2="863" y2="561.5" stroke="#1c1c1c" stroke-width="2.6"/>
<line x1="803.5" y1="476.3" x2="863" y2="476.3" stroke="#1c1c1c" stroke-width="1.7"/>
<line x1="803.5" y1="504.2" x2="863" y2="504.2" stroke="#1c1c1c" stroke-width="1.7"/>
<line x1="803.5" y1="532.1" x2="863" y2="532.1" stroke="#1c1c1c" stroke-width="1.7"/>
<text transform="translate(830.4 462.3) rotate(-90)" font-size="11" text-anchor="middle" fill="#2a2a2a" textLength="13" lengthAdjust="spacingAndGlyphs" class="l m">EV</text>
<text transform="translate(847 462.3) rotate(-90)" font-size="11" text-anchor="middle" fill="#2a2a2a" class="l m">V</text>
<text transform="translate(830.4 490.2) rotate(-90)" font-size="11" text-anchor="middle" fill="#2a2a2a" textLength="13" lengthAdjust="spacingAndGlyphs" class="l m">EV</text>
<text transform="translate(847 490.2) rotate(-90)" font-size="11" text-anchor="middle" fill="#2a2a2a" class="l m">V</text>
<text transform="translate(830.4 518.1) rotate(-90)" font-size="11" text-anchor="middle" fill="#2a2a2a" textLength="13" lengthAdjust="spacingAndGlyphs" class="l m">EV</text>
<text transform="translate(847 518.1) rotate(-90)" font-size="11" text-anchor="middle" fill="#2a2a2a" class="l m">V</text>
<text transform="translate(830.4 546) rotate(-90)" font-size="11" text-anchor="middle" fill="#2a2a2a" textLength="13" lengthAdjust="spacingAndGlyphs" class="l m">EV</text>
<text transform="translate(847 546) rotate(-90)" font-size="11" text-anchor="middle" fill="#2a2a2a" class="l m">V</text>
<circle cx="867.4" cy="453.3" r="2.1" stroke="#1c1c1c" stroke-width="1.3" fill="none"/>
<circle cx="867.4" cy="466.4" r="2.1" stroke="#1c1c1c" stroke-width="1.3" fill="none"/>
<circle cx="867.4" cy="484.5" r="2.1" stroke="#1c1c1c" stroke-width="1.3" fill="none"/>
<circle cx="867.4" cy="498.4" r="2.1" stroke="#1c1c1c" stroke-width="1.3" fill="none"/>
<circle cx="867.4" cy="509.9" r="2.1" stroke="#1c1c1c" stroke-width="1.3" fill="none"/>
<circle cx="867.4" cy="522.2" r="2.1" stroke="#1c1c1c" stroke-width="1.3" fill="none"/>
<circle cx="867.4" cy="541.1" r="2.1" stroke="#1c1c1c" stroke-width="1.3" fill="none"/>
<circle cx="867.4" cy="554.2" r="2.1" stroke="#1c1c1c" stroke-width="1.3" fill="none"/>
<path d="M871.2,473.5 l2.8,-3.2 l2.8,3.2 v4.6 l-2.8,3.2 l-2.8,-3.2 Z" stroke="#1c1c1c" stroke-width="2.3" fill="#fff"/>
<path d="M871.2,529.7 l2.8,-3.2 l2.8,3.2 v4.6 l-2.8,3.2 l-2.8,-3.2 Z" stroke="#1c1c1c" stroke-width="2.3" fill="#fff"/>
<line x1="875.5" y1="472" x2="908.1" y2="429.5" stroke="#1c1c1c" stroke-width="1"/>
<line x1="908.1" y1="429.5" x2="913.5" y2="430.5" stroke="#1c1c1c" stroke-width="1.4"/>
<text transform="translate(913.8 435) rotate(23.5)" font-size="9.5" fill="#222" textLength="128" lengthAdjust="spacingAndGlyphs" class="d">4 EV CHARGING STATION</text>
<text transform="translate(909.5 445.5) rotate(24)" font-size="9.5" fill="#222" textLength="66.6" lengthAdjust="spacingAndGlyphs" class="d">W/ BOLLARDS</text>
<line x1="893.7" y1="506.6" x2="893.7" y2="562.5" stroke="#1e1e1e" stroke-width="1.3"/>
<line x1="893.7" y1="562.5" x2="1020" y2="562.5" stroke="#1e1e1e" stroke-width="1.3"/>
<path d="M865,561.3 H815 Q806.3,561.3 806.3,570 V631 Q806.3,639.6 815,639.6 H860" stroke="#1c1c1c" stroke-width="3.9" fill="none"/>
<path d="M860,680 H815 Q806.3,680 806.3,689 V912 A98,98 0 0 0 840.5,985" stroke="#1c1c1c" stroke-width="3.9" fill="none"/>
<line x1="821.3" y1="639.6" x2="821.3" y2="680" stroke="#1e1e1e" stroke-width="0.9"/>
<text x="823" y="650.5" font-size="10.5" fill="#333" textLength="16" lengthAdjust="spacingAndGlyphs" class="l m">D.C.</text>
<text x="823" y="677.5" font-size="10.5" fill="#333" textLength="16" lengthAdjust="spacingAndGlyphs" class="l m">D.C.</text>
<line x1="794" y1="639.6" x2="822" y2="639.6" stroke="#1c1c1c" stroke-width="1.35"/>
<line x1="794" y1="678.6" x2="822" y2="678.6" stroke="#1c1c1c" stroke-width="1.35"/>
<line x1="796.3" y1="636" x2="796.3" y2="682" stroke="#1c1c1c" stroke-width="1.35"/>
<line x1="793.9" y1="642" x2="798.7" y2="637.2" stroke="#1c1c1c" stroke-width="1.7"/>
<line x1="793.9" y1="681" x2="798.7" y2="676.2" stroke="#1c1c1c" stroke-width="1.7"/>
<text transform="translate(792.5 660) rotate(-90)" font-size="9.5" text-anchor="middle" fill="#1c1c1c" textLength="19" lengthAdjust="spacingAndGlyphs" class="d">3.50</text>
<path d="M858.2,613 V581.2 H986.2 V587.5 H1041 V712.7 H852.5 V613 Z" stroke="#1e1e1e" stroke-width="0.9" fill="none"/>
<line x1="858.2" y1="581.2" x2="862.5" y2="590.5" stroke="#1e1e1e" stroke-width="0.9"/>
<line x1="852.5" y1="712.7" x2="860" y2="704" stroke="#1e1e1e" stroke-width="0.9"/>
<line x1="1041" y1="712.7" x2="1034" y2="704" stroke="#1e1e1e" stroke-width="0.9"/>
<line x1="1041" y1="587.5" x2="1034" y2="600" stroke="#1e1e1e" stroke-width="0.9"/>
<line x1="986.2" y1="581.2" x2="979" y2="590" stroke="#1e1e1e" stroke-width="0.9"/>
<path d="M852.5,719.3 H934.5 V706" stroke="#1e1e1e" stroke-width="0.9" fill="none"/>
<path d="M966.5,706 V719.3 H1051.8" stroke="#1e1e1e" stroke-width="0.9" fill="none"/>
<line x1="1051.8" y1="593" x2="1051.8" y2="735.5" stroke="#1c1c1c" stroke-width="1.4"/>
<line x1="1052.2" y1="735.5" x2="1052.2" y2="851.6" stroke="#1c1c1c" stroke-width="1.2" stroke-dasharray="18 5"/>
<line x1="1052.5" y1="851.6" x2="1052.5" y2="981" stroke="#1c1c1c" stroke-width="1.3"/>
<line x1="1052.2" y1="593" x2="1052.2" y2="981" stroke="#1c1c1c" stroke-width="0"/>
<line x1="863" y1="619" x2="904" y2="658.6" stroke="#444" stroke-width="0.7"/>
<line x1="862.3" y1="701" x2="904" y2="658.6" stroke="#444" stroke-width="0.7"/>
<line x1="976" y1="591" x2="905" y2="662" stroke="#444" stroke-width="0.7"/>
<line x1="973" y1="591" x2="902" y2="662" stroke="#444" stroke-width="0.7"/>
<line x1="1031" y1="603" x2="981" y2="653" stroke="#444" stroke-width="0.7"/>
<line x1="1028" y1="603" x2="978" y2="653" stroke="#444" stroke-width="0.7"/>
<line x1="981" y1="653" x2="1031" y2="701" stroke="#444" stroke-width="0.7"/>
<line x1="930" y1="700" x2="914" y2="680" stroke="#444" stroke-width="0.7"/>
<path d="M881.2,590.5 H979.6" stroke="#1c1c1c" stroke-width="4" fill="none"/>
<path d="M882.8,588.5 V616.8" stroke="#1c1c1c" stroke-width="4" fill="none"/>
<path d="M858.8,616.8 H904" stroke="#1c1c1c" stroke-width="4" fill="none"/>
<path d="M860.7,616.8 V705.7" stroke="#1c1c1c" stroke-width="4" fill="none"/>
<path d="M858.8,703.7 H1035" stroke="#1c1c1c" stroke-width="4" fill="none"/>
<path d="M1033,598.4 V705.7" stroke="#1c1c1c" stroke-width="4" fill="none"/>
<path d="M976,600.4 H1035" stroke="#1c1c1c" stroke-width="4" fill="none"/>
<path d="M978,588.5 V705.7" stroke="#1c1c1c" stroke-width="4" fill="none"/>
<path d="M937,590.5 V617.6 H924.6 V611" stroke="#1c1c1c" stroke-width="3.4" fill="none"/>
<path d="M948.4,617.6 H978" stroke="#1c1c1c" stroke-width="3.4" fill="none"/>
<path d="M937,703.7 V670 H978" stroke="#1c1c1c" stroke-width="3.6" fill="none"/>
<rect x="949.3" y="653.7" width="22.9" height="13.9" stroke="#1c1c1c" stroke-width="1.8" fill="none"/>
<line x1="949.3" y1="617.6" x2="949.3" y2="653.7" stroke="#1c1c1c" stroke-width="1" stroke-dasharray="4 2"/>
<line x1="914" y1="590.5" x2="914" y2="703.7" stroke="#1c1c1c" stroke-width="1.1"/>
<line x1="856.5" y1="644.6" x2="1038.7" y2="644.6" stroke="#1c1c1c" stroke-width="1"/>
<line x1="873" y1="617" x2="873" y2="644.6" stroke="#1c1c1c" stroke-width="1.1"/>
<line x1="889.4" y1="617" x2="889.4" y2="644.6" stroke="#1c1c1c" stroke-width="1.1"/>
<line x1="877" y1="677.5" x2="877" y2="703.7" stroke="#1c1c1c" stroke-width="1.1"/>
<line x1="893.5" y1="677.5" x2="893.5" y2="703.7" stroke="#1c1c1c" stroke-width="1.1"/>
<line x1="910" y1="677.5" x2="910" y2="703.7" stroke="#1c1c1c" stroke-width="1.1"/>
<line x1="924.6" y1="677.5" x2="924.6" y2="703.7" stroke="#1c1c1c" stroke-width="1.1"/>
<rect x="862.3" y="644.6" width="27" height="29.5" stroke="#222" stroke-width="1.2" fill="none" stroke-dasharray="4 2"/>
<line x1="889.4" y1="677.5" x2="935" y2="677.5" stroke="#222" stroke-width="1.2" stroke-dasharray="4 2"/>
<line x1="996" y1="602" x2="996" y2="702" stroke="#222" stroke-width="1.2" stroke-dasharray="4 2"/>
<line x1="1014" y1="602" x2="1014" y2="702" stroke="#222" stroke-width="1.2" stroke-dasharray="4 2"/>
<line x1="980" y1="602.8" x2="996" y2="602.8" stroke="#222" stroke-width="1.2" stroke-dasharray="4 2"/>
<line x1="1014" y1="602.8" x2="1031" y2="602.8" stroke="#222" stroke-width="1.2" stroke-dasharray="4 2"/>
<line x1="980" y1="622.5" x2="996" y2="622.5" stroke="#222" stroke-width="1.2" stroke-dasharray="4 2"/>
<line x1="1014" y1="622.5" x2="1031" y2="622.5" stroke="#222" stroke-width="1.2" stroke-dasharray="4 2"/>
<line x1="980" y1="641.4" x2="996" y2="641.4" stroke="#222" stroke-width="1.2" stroke-dasharray="4 2"/>
<line x1="1014" y1="641.4" x2="1031" y2="641.4" stroke="#222" stroke-width="1.2" stroke-dasharray="4 2"/>
<line x1="980" y1="657" x2="996" y2="657" stroke="#222" stroke-width="1.2" stroke-dasharray="4 2"/>
<line x1="1014" y1="657" x2="1031" y2="657" stroke="#222" stroke-width="1.2" stroke-dasharray="4 2"/>
<line x1="980" y1="678.3" x2="996" y2="678.3" stroke="#222" stroke-width="1.2" stroke-dasharray="4 2"/>
<line x1="1014" y1="678.3" x2="1031" y2="678.3" stroke="#222" stroke-width="1.2" stroke-dasharray="4 2"/>
<line x1="980" y1="697.2" x2="996" y2="697.2" stroke="#222" stroke-width="1.2" stroke-dasharray="4 2"/>
<line x1="1014" y1="697.2" x2="1031" y2="697.2" stroke="#222" stroke-width="1.2" stroke-dasharray="4 2"/>
<text x="981" y="606" font-size="3.6" fill="#222" textLength="13" lengthAdjust="spacingAndGlyphs" class="d" stroke="#222" stroke-width="0.2">-0 bike</text>
<text x="1016" y="606" font-size="3.6" fill="#222" textLength="13" lengthAdjust="spacingAndGlyphs" class="d" stroke="#222" stroke-width="0.2">-0 bike</text>
<text x="981" y="625.5" font-size="3.6" fill="#222" textLength="13" lengthAdjust="spacingAndGlyphs" class="d" stroke="#222" stroke-width="0.2">-0 bike</text>
<text x="1016" y="625.5" font-size="3.6" fill="#222" textLength="13" lengthAdjust="spacingAndGlyphs" class="d" stroke="#222" stroke-width="0.2">-0 bike</text>
<text x="981" y="661.5" font-size="3.6" fill="#222" textLength="13" lengthAdjust="spacingAndGlyphs" class="d" stroke="#222" stroke-width="0.2">-0 bike</text>
<text x="1016" y="661.5" font-size="3.6" fill="#222" textLength="13" lengthAdjust="spacingAndGlyphs" class="d" stroke="#222" stroke-width="0.2">-0 bike</text>
<text x="981" y="682.5" font-size="3.6" fill="#222" textLength="13" lengthAdjust="spacingAndGlyphs" class="d" stroke="#222" stroke-width="0.2">-0 bike</text>
<text x="1016" y="682.5" font-size="3.6" fill="#222" textLength="13" lengthAdjust="spacingAndGlyphs" class="d" stroke="#222" stroke-width="0.2">-0 bike</text>
<text x="981" y="701.5" font-size="3.6" fill="#222" textLength="13" lengthAdjust="spacingAndGlyphs" class="d" stroke="#222" stroke-width="0.2">-0 bike</text>
<text x="1016" y="701.5" font-size="3.6" fill="#222" textLength="13" lengthAdjust="spacingAndGlyphs" class="d" stroke="#222" stroke-width="0.2">-0 bike</text>
<rect x="864" y="588" width="18" height="26.3" stroke="#222" stroke-width="1.2" fill="none" stroke-dasharray="4 2"/>
<rect x="864.8" y="588.2" width="5.6" height="5.6" stroke="#1c1c1c" stroke-width="0" fill="#1c1c1c"/>
<circle cx="869.5" cy="597" r="1" stroke="#1c1c1c" stroke-width="0" fill="#1c1c1c"/>
<circle cx="869.5" cy="610" r="1" stroke="#1c1c1c" stroke-width="0" fill="#1c1c1c"/>
<path d="M885,595 q8,1 8,9 q0,8 -8,9 M885,604 h-7" stroke="#1c1c1c" stroke-width="1.4" fill="none"/>
<path d="M877,601 l4,3 l-4,3 Z" stroke="#1c1c1c" stroke-width="0" fill="#1c1c1c"/>
<path d="M916,596 l4,9 l4,-9 M916,596 V614 H937" stroke="#1c1c1c" stroke-width="1.3" fill="none"/>
<path d="M942,607 q9,2 9,12 v8" stroke="#1c1c1c" stroke-width="1.2" fill="none"/>
<path d="M945,703 V690.5 A12.5,12.5 0 0 1 957.5,703" stroke="#1c1c1c" stroke-width="1.5" fill="none"/>
<path d="M1001,602 V612 A10,10 0 0 0 1011,602" stroke="#1c1c1c" stroke-width="1.4" fill="none"/>
<path d="M894.5,588.4 v-3.6 l3,-2.4 l3,2.4 v3.6 Z" stroke="#1c1c1c" stroke-width="0" fill="#1c1c1c"/>
<path d="M935.5,588.4 v-3.6 l3,-2.4 l3,2.4 v3.6 Z" stroke="#1c1c1c" stroke-width="0" fill="#1c1c1c"/>
<path d="M902.8,588.4 v-3.6 l3,-2.4 l3,2.4 v3.6 Z" stroke="#1c1c1c" stroke-width="0" fill="#1c1c1c"/>
<path d="M943.8,588.4 v-3.6 l3,-2.4 l3,2.4 v3.6 Z" stroke="#1c1c1c" stroke-width="0" fill="#1c1c1c"/>
<path d="M911.1,588.4 v-3.6 l3,-2.4 l3,2.4 v3.6 Z" stroke="#1c1c1c" stroke-width="0" fill="#1c1c1c"/>
<path d="M952.1,588.4 v-3.6 l3,-2.4 l3,2.4 v3.6 Z" stroke="#1c1c1c" stroke-width="0" fill="#1c1c1c"/>
<path d="M919.4,588.4 v-3.6 l3,-2.4 l3,2.4 v3.6 Z" stroke="#1c1c1c" stroke-width="0" fill="#1c1c1c"/>
<path d="M960.4,588.4 v-3.6 l3,-2.4 l3,2.4 v3.6 Z" stroke="#1c1c1c" stroke-width="0" fill="#1c1c1c"/>
<rect x="969" y="578.2" width="9" height="10" stroke="#1c1c1c" stroke-width="1.1" fill="none"/>
<rect x="940.5" y="595.5" width="7" height="7" stroke="#1c1c1c" stroke-width="1.1" fill="none"/>
<rect x="954" y="595.5" width="7" height="7" stroke="#1c1c1c" stroke-width="1.1" fill="none"/>
<path d="M988.6,598.5 v-5 q2.4,-3.4 4.8,0 v5 Z" stroke="#1c1c1c" stroke-width="0" fill="#1c1c1c"/>
<path d="M1014.1,598.5 v-5 q2.4,-3.4 4.8,0 v5 Z" stroke="#1c1c1c" stroke-width="0" fill="#1c1c1c"/>
<path d="M1002,594 l2.5,2.6 l2.5,-2.6" stroke="#1c1c1c" stroke-width="1.2" fill="none"/>
<path d="M860,631.5 a6.5,6.5 0 0 0 0,13 Z" stroke="#1c1c1c" stroke-width="0" fill="#1c1c1c"/>
<path d="M860,674.5 a6.5,6.5 0 0 0 0,13 Z" stroke="#1c1c1c" stroke-width="0" fill="#1c1c1c"/>
<path d="M946.7,712.5 l3.3,-6 l3.3,6 Z" stroke="#1c1c1c" stroke-width="1" fill="#1c1c1c"/>
<path d="M958.3,706.5 l3.3,5 l3.3,-5 Z" stroke="#1c1c1c" stroke-width="0" fill="#1c1c1c"/>
<text x="906.6" y="579" font-size="11.6" fill="#222" textLength="46" lengthAdjust="spacingAndGlyphs" class="l m">MAIL BOX</text>
<rect x="948.2" y="631.5" width="26" height="10.8" stroke="#fff" stroke-width="0" fill="#fff"/>
<text x="949.3" y="640.6" font-size="11" fill="#222" textLength="23.5" lengthAdjust="spacingAndGlyphs" class="l m">16.14</text>
<text transform="translate(910.5 646.8) rotate(-90)" font-size="11" text-anchor="middle" fill="#222" textLength="24" lengthAdjust="spacingAndGlyphs" class="l m">10.83</text>
<text x="942" y="607.2" font-size="5" fill="#222" textLength="27.5" lengthAdjust="spacingAndGlyphs" class="d" stroke="#222" stroke-width="0.25">ORGANICS</text>
<text transform="translate(930.5 605) rotate(-90)" font-size="5" text-anchor="middle" fill="#222" textLength="13" lengthAdjust="spacingAndGlyphs" class="d" stroke="#222" stroke-width="0.25">ELECT</text>
<text x="919.5" y="648.8" font-size="4.6" fill="#222" textLength="21" lengthAdjust="spacingAndGlyphs" class="d" stroke="#222" stroke-width="0.25">GARBAGE</text>
<text x="921" y="654.3" font-size="4.6" fill="#222" textLength="15" lengthAdjust="spacingAndGlyphs" class="d" stroke="#222" stroke-width="0.25">ROOM</text>
<text x="942" y="684.3" font-size="5.4" fill="#222" textLength="24.5" lengthAdjust="spacingAndGlyphs" class="d" stroke="#222" stroke-width="0.25">STORAGE</text>
<text x="992" y="631.8" font-size="4.8" fill="#222" textLength="20" lengthAdjust="spacingAndGlyphs" class="d" stroke="#222" stroke-width="0.25">BICYCLE</text>
<text x="989.5" y="638.3" font-size="4.8" fill="#222" textLength="24" lengthAdjust="spacingAndGlyphs" class="d" stroke="#222" stroke-width="0.25">STORAGE</text>
<text x="863.7" y="638.6" font-size="5" fill="#222" textLength="9.5" lengthAdjust="spacingAndGlyphs" class="d" stroke="#222" stroke-width="0.25">3yd</text>
<text x="875.2" y="638.6" font-size="5" fill="#222" textLength="9.5" lengthAdjust="spacingAndGlyphs" class="d" stroke="#222" stroke-width="0.25">3yd</text>
<text x="891" y="638.6" font-size="5" fill="#222" textLength="9.5" lengthAdjust="spacingAndGlyphs" class="d" stroke="#222" stroke-width="0.25">3yd</text>
<text x="864.6" y="685.6" font-size="5" fill="#222" textLength="9.5" lengthAdjust="spacingAndGlyphs" class="d" stroke="#222" stroke-width="0.25">4yd</text>
<text x="880.5" y="685.6" font-size="5" fill="#222" textLength="9.5" lengthAdjust="spacingAndGlyphs" class="d" stroke="#222" stroke-width="0.25">4yd</text>
<text x="896.5" y="685.6" font-size="5" fill="#222" textLength="9.5" lengthAdjust="spacingAndGlyphs" class="d" stroke="#222" stroke-width="0.25">4yd</text>
<text x="912.3" y="685.6" font-size="5" fill="#222" textLength="9.5" lengthAdjust="spacingAndGlyphs" class="d" stroke="#222" stroke-width="0.25">4yd</text>
<text x="926" y="685.6" font-size="5" fill="#222" textLength="9.5" lengthAdjust="spacingAndGlyphs" class="d" stroke="#222" stroke-width="0.25">2yd</text>
<text x="955" y="662.6" font-size="5" fill="#222" textLength="9.5" lengthAdjust="spacingAndGlyphs" class="d" stroke="#222" stroke-width="0.25">4yd</text>
<line x1="921.5" y1="661" x2="906.6" y2="731" stroke="#1c1c1c" stroke-width="1.3"/>
<path d="M922.6,656.5 L919.2,665 L923.6,665.7 Z" stroke="#1c1c1c" stroke-width="0" fill="#1c1c1c"/>
<path d="M907,731 L905.8,741 H912" stroke="#1c1c1c" stroke-width="1.3" fill="none"/>
<path d="M807,735.5 H1070 V707.5" stroke="#1e1e1e" stroke-width="1.3" fill="none"/>
<line x1="1069" y1="707.5" x2="1069" y2="606" stroke="#1e1e1e" stroke-width="1.3"/>
<text x="917" y="748.8" font-size="15.4" fill="#2e2e2e" textLength="88" lengthAdjust="spacingAndGlyphs" class="l m">ACCESSORY</text>
<text x="917" y="763.8" font-size="15.4" fill="#2e2e2e" textLength="115" lengthAdjust="spacingAndGlyphs" class="l m">BUILDING 165m²</text>
<text x="888" y="839" font-size="12.6" fill="#2a2a2a" textLength="85" lengthAdjust="spacingAndGlyphs" class="l m">AMENITY AREA</text>
<text x="917.6" y="852.4" font-size="10" fill="#2a2a2a" textLength="32" lengthAdjust="spacingAndGlyphs" class="l m">535 m²</text>
<use href="#bldg" transform="matrix(0 -1 -1 0 1442.200 1265.450)"/>
<line x1="1057.8" y1="614.5" x2="1280" y2="614.5" stroke="#1c1c1c" stroke-width="1.6" stroke-dasharray="16 4"/>
<line x1="1057.8" y1="658.1" x2="1280" y2="658.1" stroke="#222" stroke-width="1.2" stroke-dasharray="22 4 8 4"/>
<line x1="1058.8" y1="789.5" x2="1280" y2="789.5" stroke="#1c1c1c" stroke-width="1.4" stroke-dasharray="22 4 8 4"/>
<line x1="1057.8" y1="963.5" x2="1280" y2="963.5" stroke="#1c1c1c" stroke-width="1.6" stroke-dasharray="16 4"/>
<line x1="1052.2" y1="700" x2="1052.2" y2="981" stroke="#1c1c1c" stroke-width="0"/>
<line x1="1047.5" y1="638.8" x2="1280" y2="638.8" stroke="#1c1c1c" stroke-width="1.35"/>
<line x1="1049.6" y1="641.2" x2="1054.4" y2="636.4" stroke="#1c1c1c" stroke-width="1.7"/>
<line x1="1112.4" y1="641.2" x2="1117.2" y2="636.4" stroke="#1c1c1c" stroke-width="1.7"/>
<line x1="1247.6" y1="641.2" x2="1252.4" y2="636.4" stroke="#1c1c1c" stroke-width="1.7"/>
<text x="1071" y="635.6" font-size="10" fill="#1c1c1c" textLength="19.6" lengthAdjust="spacingAndGlyphs" class="d">5.50</text>
<text x="1170.3" y="635.6" font-size="10" fill="#1c1c1c" textLength="24.4" lengthAdjust="spacingAndGlyphs" class="d">13.06</text>
<text x="1267.8" y="635.6" font-size="10" fill="#1c1c1c" textLength="19" lengthAdjust="spacingAndGlyphs" class="d">4.50</text>
<line x1="1047.5" y1="947" x2="1116" y2="947" stroke="#1c1c1c" stroke-width="1.35"/>
<line x1="1049.6" y1="949.4" x2="1054.4" y2="944.6" stroke="#1c1c1c" stroke-width="1.7"/>
<line x1="1112.4" y1="949.4" x2="1117.2" y2="944.6" stroke="#1c1c1c" stroke-width="1.7"/>
<line x1="1112" y1="925.6" x2="1280" y2="925.6" stroke="#1c1c1c" stroke-width="1.35"/>
<line x1="1112.4" y1="928" x2="1117.2" y2="923.2" stroke="#1c1c1c" stroke-width="1.7"/>
<line x1="1247.6" y1="928" x2="1252.4" y2="923.2" stroke="#1c1c1c" stroke-width="1.7"/>
<text x="1071" y="942" font-size="10" fill="#1c1c1c" textLength="19.6" lengthAdjust="spacingAndGlyphs" class="d">5.50</text>
<text x="1170.3" y="920.6" font-size="10" fill="#1c1c1c" textLength="24.4" lengthAdjust="spacingAndGlyphs" class="d">13.06</text>
<text x="1267.8" y="920.6" font-size="10" fill="#1c1c1c" textLength="19" lengthAdjust="spacingAndGlyphs" class="d">4.50</text>
<line x1="1132.8" y1="609" x2="1132.8" y2="981" stroke="#1c1c1c" stroke-width="1.35"/>
<line x1="1130.4" y1="617.4" x2="1135.2" y2="612.6" stroke="#1c1c1c" stroke-width="1.7"/>
<line x1="1130.4" y1="965.6" x2="1135.2" y2="960.8" stroke="#1c1c1c" stroke-width="1.7"/>
<text transform="translate(1127.8 788) rotate(-90)" font-size="9.5" text-anchor="middle" fill="#1c1c1c" textLength="25" lengthAdjust="spacingAndGlyphs" class="d">32.41</text>
<line x1="1069" y1="605.6" x2="1069" y2="981" stroke="#1e1e1e" stroke-width="1.3"/>
<line x1="1069" y1="605.6" x2="1094.4" y2="553.1" stroke="#1e1e1e" stroke-width="1.3"/>
<rect x="1136.6" y="708.4" width="43.1" height="166" stroke="#1c1c1c" stroke-width="2.2" fill="none"/>
<text transform="translate(1169.4 863.1) rotate(-90)" font-size="30" fill="#1e1e1e" textLength="143.4" lengthAdjust="spacingAndGlyphs" class="l b">BLOCK - 8</text>
<text transform="translate(1207 848.1) rotate(-90)" font-size="25" fill="#1e1e1e" textLength="115.3" lengthAdjust="spacingAndGlyphs" class="l b">12 - UNITS</text>
<text x="1146" y="625" font-size="12" fill="#222" textLength="29" lengthAdjust="spacingAndGlyphs" class="l m">Hydro</text>
<text x="1148" y="960.5" font-size="12" fill="#222" textLength="21" lengthAdjust="spacingAndGlyphs" class="l m">Gas</text>
<path d="M711.2,-2 L710.2,18.4 Q710.5,27 720.4,28.5 L740.8,34.7  C745.9,35.55 761.2,39.47 771.4,39.8 C781.6,40.13 792.83,38.58 802,36.7 C811.17,34.82 818.93,32.23 826.4,28.5 C833.87,24.77 841.53,19.38 846.8,14.3 C852.07,9.22 856.13,0.72 858,-2" stroke="#1c1c1c" stroke-width="3.9" fill="none" stroke-linejoin="round"/>
<line x1="740.8" y1="36.7" x2="725.5" y2="98.9" stroke="#1c1c1c" stroke-width="1.35"/>
<line x1="725.5" y1="32.6" x2="710.2" y2="93.8" stroke="#1c1c1c" stroke-width="1.35"/>
<line x1="710.2" y1="93.8" x2="727" y2="99.5" stroke="#1c1c1c" stroke-width="1.35"/>
<line x1="722.56" y1="100.6" x2="728.44" y2="97.2" stroke="#1c1c1c" stroke-width="1.7"/>
<line x1="737.66" y1="39.2" x2="743.54" y2="35.8" stroke="#1c1c1c" stroke-width="1.7"/>
<text transform="translate(730 65.3) rotate(-76)" font-size="9.5" text-anchor="middle" fill="#1c1c1c" textLength="19" lengthAdjust="spacingAndGlyphs" class="d">6.00</text>
<text x="707" y="40.8" font-size="11" fill="#333" textLength="19.5" lengthAdjust="spacingAndGlyphs" class="l m">D.C.</text>
<text x="699.5" y="92.8" font-size="11" fill="#333" textLength="19.5" lengthAdjust="spacingAndGlyphs" class="l m">D.C.</text>
<text x="772.4" y="51" font-size="10" fill="#222" textLength="24.5" lengthAdjust="spacingAndGlyphs" class="d">R=9.0</text>
<text transform="translate(726 111) rotate(62)" font-size="10" fill="#222" textLength="24.5" lengthAdjust="spacingAndGlyphs" class="d">R=9.0</text>
<path d="M943,-2 C939.92,1.73 930.92,12.58 924.5,20.4 C918.08,28.22 910,38.13 904.5,44.9 C899,51.67 897,53.73 891.5,61 C886,68.27 878.23,78.82 871.5,88.5 C864.77,98.18 857.88,106.87 851.1,119.1 C844.32,131.33 836.57,147.97 830.8,161.9 C825.03,175.83 819.9,192.17 816.5,202.7 C813.1,213.23 812.1,215.55 810.4,225.1 C808.7,234.65 806.7,250.02 806.3,260 C805.9,269.98 807.18,278.68 808,285 C808.82,291.32 808.77,291.67 811.2,297.9 C813.63,304.13 817.97,315.05 822.6,322.4 C827.23,329.75 834.1,337.23 839,342 C843.9,346.77 849.83,349.5 852,351 Q858,353 862,347 L866.7,338.7 L882,304.4 L1100,401.1  C1109.38,405.43 1139.9,420.3 1156.3,427.1 C1172.7,433.9 1182.47,437.68 1198.4,441.9 C1214.33,446.12 1242.98,450.65 1251.9,452.4 L1246.3,498 Q1246.5,506 1254,505.6 Q1261,505 1262,498 L1267.3,457.3 L1282,459" stroke="#1c1c1c" stroke-width="3.9" fill="none" stroke-linejoin="round"/>
<path d="M967.5,3 C965.15,4.58 959.38,6.5 953.4,12.5 C947.42,18.5 937.6,31.08 931.6,39 C925.6,46.92 925.03,50.05 917.4,60 C909.77,69.95 895.15,85.12 885.8,98.7 C876.45,112.28 868.77,126.88 861.3,141.5 C853.83,156.12 846.27,172.47 841,186.4 C835.73,200.33 832.28,213.17 829.7,225.1 C827.12,237.03 826.2,252.52 825.5,258" stroke="#1c1c1c" stroke-width="1.6" fill="none"/>
<path d="M825,257.9 L920.5,302" stroke="#1c1c1c" stroke-width="1.6" fill="none"/>
<path d="M808,271 L866.7,294.6 L845.5,342" stroke="#1c1c1c" stroke-width="1.6" fill="none"/>
<path d="M700,59 C706.8,61.07 727.2,68.83 740.8,71.4 C754.4,73.97 768.02,75.42 781.6,74.4 C795.18,73.38 808.73,70.9 822.3,65.3 C835.87,59.7 849.72,51.68 863,40.8 C876.28,29.92 895.5,6.8 902,0" stroke="#444" stroke-width="0.9" fill="none" stroke-dasharray="18 4 6 4"/>
<path d="M830.5,34.7 C825.75,40.47 810.83,54.7 802,69.3 C793.17,83.9 784.3,106.68 777.5,122.3 C770.7,137.92 765.45,150.05 761.2,163 C756.95,175.95 754.7,185.5 752,200 C749.3,214.5 746.67,233.33 745,250 C743.33,266.67 742.5,291.67 742,300" stroke="#444" stroke-width="0.9" fill="none" stroke-dasharray="18 4 6 4"/>
<path d="M730.6,75.4 C735.7,81.17 753.38,98.78 761.2,110 C769.02,121.22 773.77,132.15 777.5,142.7 C781.23,153.25 782.42,163.75 783.6,173.3 C784.78,182.85 785.03,188.88 784.6,200 C784.17,211.12 781.6,233.33 781,240" stroke="#444" stroke-width="0.9" fill="none" stroke-dasharray="18 4 6 4"/>
<path d="M869.2,36.7 C863.08,44.18 842.7,66.65 832.5,81.6 C822.3,96.55 814.62,111.8 808,126.4 C801.38,141 796.47,155.27 792.8,169.2 C789.13,183.13 787.13,203.2 786,210" stroke="#444" stroke-width="0.9" fill="none" stroke-dasharray="18 4 6 4"/>
<path d="M700,51 C710,51.83 743.33,53.17 760,56 C776.67,58.83 787.5,60.67 800,68 C812.5,75.33 829.17,94.67 835,100" stroke="#444" stroke-width="0.9" fill="none" stroke-dasharray="18 4 6 4"/>
<path d="M741,245 C741.25,253.33 740.7,280.83 742.5,295 C744.3,309.17 746.52,317.72 751.8,330 C757.08,342.28 765.72,357.48 774.2,368.7 C782.68,379.92 795.57,390.15 802.7,397.3 C809.83,404.45 814.62,409.22 817,411.6" stroke="#444" stroke-width="0.9" fill="none" stroke-dasharray="18 4 6 4"/>
<path d="M775,245 C775.83,252.5 777.42,275.83 780,290 C782.58,304.17 784.67,317.55 790.5,330 C796.33,342.45 806.17,355.87 815,364.7 C823.83,373.53 831.95,376.88 843.5,383 C855.05,389.12 872.4,395.97 884.3,401.4 C896.2,406.83 900.12,409.17 914.9,415.6 C929.68,422.03 963.32,435.93 973,440" stroke="#444" stroke-width="0.9" fill="none" stroke-dasharray="18 4 6 4"/>
<path d="M1091,493.2 C1101.67,498.13 1133.33,515.13 1155,522.8 C1176.67,530.47 1199.83,535.07 1221,539.2 C1242.17,543.33 1271.83,546.2 1282,547.6" stroke="#444" stroke-width="0.9" fill="none" stroke-dasharray="18 4 6 4"/>
<text transform="translate(757 326) rotate(62)" font-size="10" fill="#222" textLength="31" lengthAdjust="spacingAndGlyphs" class="d">R=15.0</text>
<text transform="translate(787 288) rotate(62)" font-size="10" fill="#222" textLength="31" lengthAdjust="spacingAndGlyphs" class="d">R=12.0</text>
<text transform="translate(806.5 306) rotate(65)" font-size="10" fill="#222" textLength="25" lengthAdjust="spacingAndGlyphs" class="d">R=9.0</text>
<text x="840.6" y="360" font-size="11" fill="#333" textLength="18" lengthAdjust="spacingAndGlyphs" class="l m">D.C.</text>
<text x="820" y="413.6" font-size="11" fill="#333" textLength="19" lengthAdjust="spacingAndGlyphs" class="l m">D.C.</text>
<path d="M844.5,349.4 Q826,380 817,414.6" stroke="#1c1c1c" stroke-width="1.8" fill="none"/>
<path d="M858.8,352.4 Q842,385 833.3,415.6" stroke="#1c1c1c" stroke-width="1.8" fill="none"/>
<path d="M771.4,875 C771.5,880.83 771.07,897.83 772,910 C772.93,922.17 774.33,936.17 777,948 C779.67,959.83 786.17,975.5 788,981" stroke="#444" stroke-width="0.9" fill="none" stroke-dasharray="18 4 6 4"/>
<path d="M739.5,905 C740.08,912.17 740.75,935.33 743,948 C745.25,960.67 751.33,975.5 753,981" stroke="#444" stroke-width="0.9" fill="none" stroke-dasharray="18 4 6 4"/>
<text transform="translate(786 968) rotate(58)" font-size="9.5" fill="#222" textLength="24" lengthAdjust="spacingAndGlyphs" class="d">R=9.0</text>
<text transform="translate(809 958) rotate(58)" font-size="9.5" fill="#222" textLength="24" lengthAdjust="spacingAndGlyphs" class="d">R=9.0</text>
<path d="M1037,-2 C1044.17,2.23 1070.5,17.82 1080,23.4 C1089.5,28.98 1082.53,25.15 1094,31.5 C1105.47,37.85 1130.57,52.62 1148.8,61.5 C1167.03,70.38 1181.2,76.28 1203.4,84.8 C1225.6,93.32 1268.9,107.97 1282,112.6" stroke="#1c1c1c" stroke-width="3.9" fill="none"/>
<path d="M967.5,3 C973.75,6.93 993.58,19.28 1005,26.6 C1016.42,33.92 1023.5,39.1 1036,46.9 C1048.5,54.7 1065.77,65.38 1080,73.4 C1094.23,81.42 1105.4,87.4 1121.4,95 C1137.4,102.6 1157.77,111.67 1176,119 C1194.23,126.33 1213.13,133 1230.8,139 C1248.47,145 1273.47,152.33 1282,155" stroke="#1c1c1c" stroke-width="1.7" fill="none"/>
<path d="M1005,-1 C1010.17,2.55 1023.5,12.58 1036,20.3 C1048.5,28.02 1065.77,37.35 1080,45.3 C1094.23,53.25 1105.4,59.88 1121.4,68 C1137.4,76.12 1157.77,86 1176,94 C1194.23,102 1213.13,109.42 1230.8,116 C1248.47,122.58 1273.47,130.58 1282,133.5" stroke="#1c1c1c" stroke-width="1.7" fill="none"/>
<path d="M1162.4,-2 C1169.23,1.07 1183.47,7.73 1203.4,16.4 C1223.33,25.07 1268.9,44.4 1282,50" stroke="#444" stroke-width="0.9" fill="none" stroke-dasharray="18 4 6 4"/>
<path d="M900,-2 C905,1.67 917.97,11.33 930,20 C942.03,28.67 954.53,37.97 972.2,50 C989.87,62.03 1018.03,81 1036,92.2 C1053.97,103.4 1061.2,107.95 1080,117.2 C1098.8,126.45 1128.23,138.98 1148.8,147.7 C1169.37,156.42 1181.2,161.45 1203.4,169.5 C1225.6,177.55 1268.9,191.58 1282,196" stroke="#1c1c1c" stroke-width="2" fill="none" stroke-dasharray="20 4 5 4"/>
<path d="M857,3 C860.83,6.4 865.75,12.7 880,23.4 C894.25,34.1 920.37,52.1 942.5,67.2 C964.63,82.3 996.65,103.78 1012.8,114 C1028.95,124.22 1021.3,119.25 1039.4,128.5 C1057.5,137.75 1094.07,156.28 1121.4,169.5 C1148.73,182.72 1176.63,196.3 1203.4,207.8 C1230.17,219.3 1268.9,233.38 1282,238.5" stroke="#1c1c1c" stroke-width="1.3" fill="none" stroke-dasharray="8 3"/>
<pattern id="stip" width="5" height="5" patternUnits="userSpaceOnUse"><rect width="5" height="5" fill="#f4f4f4"/><circle cx="1" cy="1.2" r="0.55" fill="#555"/><circle cx="3.4" cy="2.2" r="0.5" fill="#666"/><circle cx="2" cy="4" r="0.55" fill="#555"/><circle cx="4.4" cy="4.4" r="0.4" fill="#777"/></pattern>
<g transform="translate(977.8 -12.9) rotate(33)">
<rect x="0" y="0" width="33" height="19" stroke="#b0b0b0" stroke-width="1.5" fill="url(#stip)"/>
<rect x="33" y="0" width="33" height="19" stroke="#b0b0b0" stroke-width="1.5" fill="url(#stip)"/>
</g>
<line x1="1035.02" y1="103.26" x2="1053.64" y2="60.65" stroke="#1c1c1c" stroke-width="1.4"/>
<line x1="1050.6" y1="110.07" x2="1069.22" y2="67.46" stroke="#1c1c1c" stroke-width="1.4"/>
<line x1="1195.02" y1="173.16" x2="1210.43" y2="137.88" stroke="#1c1c1c" stroke-width="1.4"/>
<line x1="1210.6" y1="179.97" x2="1226.01" y2="144.69" stroke="#1c1c1c" stroke-width="1.4"/>
<line x1="972.2" y1="50" x2="928.4" y2="114" stroke="#1c1c1c" stroke-width="1.35"/>
<line x1="971.61" y1="53.35" x2="972.79" y2="46.65" stroke="#1c1c1c" stroke-width="1.7"/>
<line x1="928.41" y1="116.35" x2="929.59" y2="109.65" stroke="#1c1c1c" stroke-width="1.7"/>
<line x1="961.25" y1="73.4" x2="939.4" y2="123.4" stroke="#1c1c1c" stroke-width="1.3" stroke-dasharray="7 3"/>
<path d="M947.2,26.6 C941.83,32.5 924.9,50.28 915,62 C905.1,73.72 892.33,91.08 887.8,96.9" stroke="#1c1c1c" stroke-width="1.2" fill="none"/>
<text transform="translate(946 81) rotate(-56)" font-size="9.5" text-anchor="middle" fill="#1c1c1c" textLength="19" lengthAdjust="spacingAndGlyphs" class="d">7.05</text>
<line x1="871.5" y1="88.5" x2="927" y2="129.7" stroke="#1c1c1c" stroke-width="1.35"/>
<line x1="868.15" y1="89.09" x2="874.85" y2="87.91" stroke="#1c1c1c" stroke-width="1.7"/>
<line x1="923.65" y1="130.29" x2="930.35" y2="129.11" stroke="#1c1c1c" stroke-width="1.7"/>
<text transform="translate(906.5 106.5) rotate(36)" font-size="9.5" text-anchor="middle" fill="#1c1c1c" textLength="19" lengthAdjust="spacingAndGlyphs" class="d">6.68</text>
<line x1="808" y1="222.8" x2="884.6" y2="235.1" stroke="#1c1c1c" stroke-width="1.35"/>
<line x1="805.21" y1="224.75" x2="810.79" y2="220.85" stroke="#1c1c1c" stroke-width="1.7"/>
<line x1="881.81" y1="237.05" x2="887.39" y2="233.15" stroke="#1c1c1c" stroke-width="1.7"/>
<text transform="translate(848 219.5) rotate(9)" font-size="9.5" text-anchor="middle" fill="#1c1c1c" textLength="19" lengthAdjust="spacingAndGlyphs" class="d">6.76</text>
<text transform="translate(1109 90.2) rotate(24)" font-size="10" fill="#333" textLength="47" lengthAdjust="spacingAndGlyphs" class="d">R=101.16</text>
<text transform="translate(1079 94.3) rotate(24)" font-size="10" fill="#333" textLength="97" lengthAdjust="spacingAndGlyphs" class="d">A=63.40 C=62.37</text>
<text transform="translate(1084.5 110.7) rotate(24)" font-size="10" fill="#333" textLength="74" lengthAdjust="spacingAndGlyphs" class="d">N 86°42'10" E</text>
<line x1="1266.3" y1="191.4" x2="1255.4" y2="227" stroke="#1c1c1c" stroke-width="1.35"/>
<line x1="1263.22" y1="192.84" x2="1269.38" y2="189.96" stroke="#1c1c1c" stroke-width="1.7"/>
<line x1="1252.32" y1="228.44" x2="1258.48" y2="225.56" stroke="#1c1c1c" stroke-width="1.7"/>
<text transform="translate(1258 208) rotate(-73)" font-size="9.5" text-anchor="middle" fill="#1c1c1c" textLength="19" lengthAdjust="spacingAndGlyphs" class="d">3.00</text>
<line x1="907.58" y1="316.67" x2="885.56" y2="367.07" stroke="#1c1c1c" stroke-width="1.7"/>
<line x1="933.56" y1="328.02" x2="911.54" y2="378.42" stroke="#1c1c1c" stroke-width="1.7"/>
<line x1="959.54" y1="339.37" x2="937.52" y2="389.77" stroke="#1c1c1c" stroke-width="1.7"/>
<line x1="985.52" y1="350.72" x2="963.5" y2="401.12" stroke="#1c1c1c" stroke-width="1.7"/>
<line x1="1011.49" y1="362.07" x2="989.47" y2="412.47" stroke="#1c1c1c" stroke-width="1.7"/>
<line x1="1037.47" y1="373.42" x2="1015.45" y2="423.82" stroke="#1c1c1c" stroke-width="1.7"/>
<line x1="1063.45" y1="384.77" x2="1041.43" y2="435.17" stroke="#1c1c1c" stroke-width="1.7"/>
<line x1="1089.43" y1="396.12" x2="1067.41" y2="446.52" stroke="#1c1c1c" stroke-width="1.7"/>
<line x1="1115.41" y1="407.47" x2="1093.39" y2="457.87" stroke="#1c1c1c" stroke-width="1.7"/>
<line x1="1138.7" y1="422.2" x2="1118.3" y2="471.4" stroke="#1c1c1c" stroke-width="1.7"/>
<line x1="1166.8" y1="432.7" x2="1147.1" y2="484.1" stroke="#1c1c1c" stroke-width="1.7"/>
<line x1="1192.8" y1="440.5" x2="1178" y2="493.9" stroke="#1c1c1c" stroke-width="1.7"/>
<line x1="1211.1" y1="447.5" x2="1196.3" y2="500.2" stroke="#1c1c1c" stroke-width="1.7"/>
<line x1="1220.9" y1="448.9" x2="1208.3" y2="502.3" stroke="#1c1c1c" stroke-width="1.7"/>
<line x1="1178" y1="493.9" x2="1196.3" y2="500.2" stroke="#1c1c1c" stroke-width="1.35"/>
<line x1="1159" y1="448.2" x2="1190" y2="457.3" stroke="#1c1c1c" stroke-width="1.35"/>
<line x1="1160.42" y1="450.94" x2="1166.58" y2="448.06" stroke="#1c1c1c" stroke-width="1.7"/>
<line x1="1185.42" y1="458.44" x2="1191.58" y2="455.56" stroke="#1c1c1c" stroke-width="1.7"/>
<text transform="translate(1176.6 449) rotate(16)" font-size="9.5" text-anchor="middle" fill="#1c1c1c" textLength="19" lengthAdjust="spacingAndGlyphs" class="d">2.60</text>
<text transform="translate(1199 472) rotate(-73)" font-size="9.5" text-anchor="middle" fill="#1c1c1c" textLength="19" lengthAdjust="spacingAndGlyphs" class="d">5.20</text>
<text transform="translate(1204.8 461) rotate(20)" font-size="10.5" text-anchor="middle" fill="#333" class="l m">V</text>
<text transform="translate(1231.5 469) rotate(18)" font-size="10.5" text-anchor="middle" fill="#333" class="l m">V</text>
<line x1="886.49" y1="356.56" x2="918.57" y2="370.57" stroke="#1c1c1c" stroke-width="1.35"/>
<line x1="886.4" y1="359.14" x2="892.73" y2="356.66" stroke="#1c1c1c" stroke-width="1.7"/>
<line x1="912.38" y1="370.49" x2="918.71" y2="368.01" stroke="#1c1c1c" stroke-width="1.7"/>
<line x1="885.56" y1="367.07" x2="883.16" y2="372.56" stroke="#1c1c1c" stroke-width="1.7"/>
<line x1="911.54" y1="378.42" x2="909.14" y2="383.91" stroke="#1c1c1c" stroke-width="1.7"/>
<text transform="translate(904.13 359.9) rotate(23.6)" font-size="9.5" text-anchor="middle" fill="#1c1c1c" textLength="19" lengthAdjust="spacingAndGlyphs" class="d">2.60</text>
<line x1="952.44" y1="332.99" x2="901.2" y2="450.29" stroke="#1c1c1c" stroke-width="1.35"/>
<line x1="948.48" y1="336.07" x2="954.81" y2="333.59" stroke="#1c1c1c" stroke-width="1.7"/>
<line x1="925.86" y1="387.84" x2="932.19" y2="385.36" stroke="#1c1c1c" stroke-width="1.7"/>
<line x1="898.83" y1="449.7" x2="905.17" y2="447.21" stroke="#1c1c1c" stroke-width="1.7"/>
<line x1="929.02" y1="386.6" x2="937.27" y2="390.2" stroke="#1c1c1c" stroke-width="1.35"/>
<text transform="translate(936.43 360.92) rotate(-66.4)" font-size="9.5" text-anchor="middle" fill="#1c1c1c" textLength="19" lengthAdjust="spacingAndGlyphs" class="d">5.20</text>
<text transform="translate(911.2 418.65) rotate(-66.4)" font-size="9.5" text-anchor="middle" fill="#1c1c1c" textLength="19" lengthAdjust="spacingAndGlyphs" class="d">6.00</text>
<text transform="translate(981.4 339.2) rotate(23.6)" font-size="11" fill="#222" textLength="122.6" lengthAdjust="spacingAndGlyphs" class="d">1.5m Asphalt Sidewalk</text>
<text transform="translate(1004.4 390) rotate(24.1)" font-size="14.8" fill="#2b2b2b" textLength="131" lengthAdjust="spacingAndGlyphs" class="l m">14 Parking Spaces</text>
<text transform="translate(974.4 436.9) rotate(24.4)" font-size="14.6" fill="#2b2b2b" textLength="129.5" lengthAdjust="spacingAndGlyphs" class="l m">Fire Access Route</text>
<line x1="973.2" y1="439.6" x2="1091" y2="493.2" stroke="#444" stroke-width="0.9"/>
<line x1="918.38" y1="515.73" x2="940.8" y2="464.42" stroke="#1c1c1c" stroke-width="1.7"/>
<line x1="944.36" y1="527.08" x2="966.78" y2="475.77" stroke="#1c1c1c" stroke-width="1.7"/>
<line x1="970.34" y1="538.43" x2="992.76" y2="487.12" stroke="#1c1c1c" stroke-width="1.7"/>
<line x1="996.32" y1="549.78" x2="1018.74" y2="498.47" stroke="#1c1c1c" stroke-width="1.7"/>
<line x1="1022.29" y1="561.13" x2="1051.92" y2="493.32" stroke="#1c1c1c" stroke-width="1.7"/>
<line x1="908.34" y1="514.62" x2="933.16" y2="457.8" stroke="#1c1c1c" stroke-width="1.35"/>
<line x1="905.97" y1="514.03" x2="912.3" y2="511.55" stroke="#1c1c1c" stroke-width="1.7"/>
<line x1="928.79" y1="461.79" x2="935.12" y2="459.31" stroke="#1c1c1c" stroke-width="1.7"/>
<line x1="931.96" y1="460.55" x2="940.8" y2="464.42" stroke="#1c1c1c" stroke-width="1.35"/>
<text transform="translate(917.41 485.85) rotate(-66.4)" font-size="9.5" text-anchor="middle" fill="#1c1c1c" textLength="19" lengthAdjust="spacingAndGlyphs" class="d">5.20</text>
<line x1="932.12" y1="475.91" x2="964.2" y2="489.92" stroke="#1c1c1c" stroke-width="1.35"/>
<line x1="932.03" y1="478.49" x2="938.36" y2="476.01" stroke="#1c1c1c" stroke-width="1.7"/>
<line x1="958.01" y1="489.84" x2="964.34" y2="487.36" stroke="#1c1c1c" stroke-width="1.7"/>
<line x1="966.78" y1="475.77" x2="968.78" y2="471.19" stroke="#1c1c1c" stroke-width="1.7"/>
<text transform="translate(949.76 479.25) rotate(23.6)" font-size="9.5" text-anchor="middle" fill="#1c1c1c" textLength="19" lengthAdjust="spacingAndGlyphs" class="d">2.60</text>
<text transform="translate(925.9 479.4) rotate(24.1)" font-size="15.5" fill="#2b2b2b" textLength="136" lengthAdjust="spacingAndGlyphs" class="l m">9 P. Spaces + 1 H.C.</text>
<text transform="translate(966.6 518.5) rotate(23.6)" font-size="10.5" text-anchor="middle" fill="#333" class="l m">V</text>
<text transform="translate(991.7 530.5) rotate(23.6)" font-size="10.5" text-anchor="middle" fill="#333" class="l m">V</text>
<text transform="translate(1017.7 541) rotate(23.6)" font-size="10.5" text-anchor="middle" fill="#333" class="l m">V</text>
<text transform="translate(1054.1 564.3) rotate(23.6)" font-size="10.5" text-anchor="middle" fill="#333" class="l m">V</text>
<line x1="1048.6" y1="494.05" x2="1095.33" y2="514.47" stroke="#1c1c1c" stroke-width="1.35"/>
<line x1="1047.95" y1="496.4" x2="1054.29" y2="493.91" stroke="#1c1c1c" stroke-width="1.7"/>
<line x1="1089.42" y1="514.51" x2="1095.75" y2="512.03" stroke="#1c1c1c" stroke-width="1.7"/>
<line x1="1093.79" y1="510.52" x2="1088.18" y2="523.35" stroke="#1c1c1c" stroke-width="1.35"/>
<text transform="translate(1073.57 500.6) rotate(23.6)" font-size="9.5" text-anchor="middle" fill="#1c1c1c" textLength="19" lengthAdjust="spacingAndGlyphs" class="d">3.90</text>
<line x1="1060.21" y1="514.95" x2="1089.53" y2="527.76" stroke="#1c1c1c" stroke-width="1.35"/>
<line x1="1058.87" y1="516.99" x2="1065.2" y2="514.51" stroke="#1c1c1c" stroke-width="1.7"/>
<line x1="1083.61" y1="527.8" x2="1089.95" y2="525.32" stroke="#1c1c1c" stroke-width="1.7"/>
<text transform="translate(1076.47 517.69) rotate(23.6)" font-size="9.5" text-anchor="middle" fill="#1c1c1c" textLength="19" lengthAdjust="spacingAndGlyphs" class="d">2.40</text>
<line x1="1061.84" y1="516.21" x2="1038.62" y2="569.36" stroke="#1e1e1e" stroke-width="1.3" stroke-dasharray="4 2"/>
<g transform="translate(1044.32 515.1) rotate(23.6)">
<clipPath id="hh5"><rect x="0" y="0" width="14" height="50"/></clipPath><g clip-path="url(#hh5)">
<line x1="-1" y1="0" x2="16" y2="-17" stroke="#2a2a2a" stroke-width="1.9"/>
<line x1="-1" y1="3.9" x2="16" y2="-13.1" stroke="#2a2a2a" stroke-width="1.9"/>
<line x1="-1" y1="7.8" x2="16" y2="-9.2" stroke="#2a2a2a" stroke-width="1.9"/>
<line x1="-1" y1="11.7" x2="16" y2="-5.3" stroke="#2a2a2a" stroke-width="1.9"/>
<line x1="-1" y1="15.6" x2="16" y2="-1.4" stroke="#2a2a2a" stroke-width="1.9"/>
<line x1="-1" y1="19.5" x2="16" y2="2.5" stroke="#2a2a2a" stroke-width="1.9"/>
<line x1="-1" y1="23.4" x2="16" y2="6.4" stroke="#2a2a2a" stroke-width="1.9"/>
<line x1="-1" y1="27.3" x2="16" y2="10.3" stroke="#2a2a2a" stroke-width="1.9"/>
<line x1="-1" y1="31.2" x2="16" y2="14.2" stroke="#2a2a2a" stroke-width="1.9"/>
<line x1="-1" y1="35.1" x2="16" y2="18.1" stroke="#2a2a2a" stroke-width="1.9"/>
<line x1="-1" y1="39" x2="16" y2="22" stroke="#2a2a2a" stroke-width="1.9"/>
<line x1="-1" y1="42.9" x2="16" y2="25.9" stroke="#2a2a2a" stroke-width="1.9"/>
<line x1="-1" y1="46.8" x2="16" y2="29.8" stroke="#2a2a2a" stroke-width="1.9"/>
<line x1="-1" y1="50.7" x2="16" y2="33.7" stroke="#2a2a2a" stroke-width="1.9"/>
<line x1="-1" y1="54.6" x2="16" y2="37.6" stroke="#2a2a2a" stroke-width="1.9"/>
<line x1="-1" y1="58.5" x2="16" y2="41.5" stroke="#2a2a2a" stroke-width="1.9"/>
<line x1="-1" y1="62.4" x2="16" y2="45.4" stroke="#2a2a2a" stroke-width="1.9"/>
<line x1="-1" y1="66.3" x2="16" y2="49.3" stroke="#2a2a2a" stroke-width="1.9"/>
<line x1="-1" y1="70.2" x2="16" y2="53.2" stroke="#2a2a2a" stroke-width="1.9"/>
<line x1="-1" y1="74.1" x2="16" y2="57.1" stroke="#2a2a2a" stroke-width="1.9"/>
<line x1="-1" y1="78" x2="16" y2="61" stroke="#2a2a2a" stroke-width="1.9"/>
<line x1="-1" y1="81.9" x2="16" y2="64.9" stroke="#2a2a2a" stroke-width="1.9"/>
</g>
<rect x="0" y="0" width="14" height="50" stroke="#555" stroke-width="1" fill="none"/>
<rect x="-2" y="53" width="21" height="8.5" stroke="#1c1c1c" stroke-width="0" fill="#2a2a2a"/>
<rect x="0.5" y="56.2" width="1.9" height="2" stroke="#999" stroke-width="0" fill="#999"/>
<rect x="4.1" y="56.2" width="1.9" height="2" stroke="#999" stroke-width="0" fill="#999"/>
<rect x="7.7" y="56.2" width="1.9" height="2" stroke="#999" stroke-width="0" fill="#999"/>
<rect x="11.3" y="56.2" width="1.9" height="2" stroke="#999" stroke-width="0" fill="#999"/>
<rect x="14.9" y="56.2" width="1.9" height="2" stroke="#999" stroke-width="0" fill="#999"/>
</g>
<g transform="translate(1064.77 546.95) rotate(23.6) scale(1)" fill="none" stroke="#1c1c1c" stroke-linecap="round" stroke-linejoin="round">
<circle cx="-1.3" cy="-10.2" r="1.9" stroke-width="1.8"/>
<path d="M-1.6,-7 V1.4 H4.8 L7.6,7.6 L10.4,6.4" stroke-width="2.7"/>
<path d="M-1.6,-3.2 H3.4" stroke-width="1.9"/>
<path d="M-4.8,-2 A7.2,7.2 0 1 0 5.4,8" stroke-width="2.8"/>
</g>
<text transform="translate(1014.29 575.09) rotate(23.6)" font-size="9" fill="#333" textLength="21" lengthAdjust="spacingAndGlyphs" class="d">TWSI</text>
<text transform="translate(1031.46 560.77) rotate(23.6)" font-size="10" fill="#333" textLength="16" lengthAdjust="spacingAndGlyphs" class="l m">D.C.</text>
<path d="M1082.2,538.5 Q1084,533.2 1091,533.6  C1100.03,536.55 1128.7,546.17 1145.2,551.3 C1161.7,556.43 1176.28,560.66 1190,564.4 C1203.72,568.14 1212.17,570.65 1227.5,573.75 C1242.83,576.85 1272.92,581.46 1282,583" stroke="#1c1c1c" stroke-width="3.9" fill="none" stroke-linejoin="round"/>
<line x1="1063.4" y1="583" x2="1051.8" y2="607" stroke="#1e1e1e" stroke-width="1.3"/>
<use href="#bldg" transform="matrix(0.91636 0.40035 0.40035 -0.91636 532.011 304.188)"/>
<line x1="932.03" y1="137.93" x2="1257.34" y2="280.05" stroke="#1c1c1c" stroke-width="1.35"/>
<line x1="893.29" y1="312.52" x2="972.56" y2="131.08" stroke="#1c1c1c" stroke-width="1.35"/>
<line x1="1162.88" y1="430.31" x2="1242.15" y2="248.87" stroke="#1c1c1c" stroke-width="1.35"/>
<line x1="944.53" y1="331.63" x2="966.94" y2="280.32" stroke="#1c1c1c" stroke-width="1.4" stroke-dasharray="8 3"/>
<line x1="1020.19" y1="158.44" x2="1056.62" y2="75.05" stroke="#1c1c1c" stroke-width="1.4" stroke-dasharray="10 3 3 3"/>
<line x1="1024.48" y1="366.56" x2="1046.9" y2="315.25" stroke="#1c1c1c" stroke-width="1.4" stroke-dasharray="8 3"/>
<line x1="1100.14" y1="193.37" x2="1136.58" y2="109.98" stroke="#1c1c1c" stroke-width="1.4" stroke-dasharray="10 3 3 3"/>
<line x1="1104.52" y1="401.53" x2="1126.94" y2="350.22" stroke="#1c1c1c" stroke-width="1.4" stroke-dasharray="8 3"/>
<line x1="1180.19" y1="228.34" x2="1216.62" y2="144.95" stroke="#1c1c1c" stroke-width="1.4" stroke-dasharray="10 3 3 3"/>
<line x1="853.86" y1="313.85" x2="965.96" y2="57.27" stroke="#1c1c1c" stroke-width="1.2" stroke-dasharray="12 4"/>
<line x1="1176.88" y1="454.97" x2="1288.98" y2="198.39" stroke="#1c1c1c" stroke-width="1.2" stroke-dasharray="12 4"/>
<line x1="978.43" y1="326.47" x2="1085.27" y2="373.15" stroke="#1c1c1c" stroke-width="1.5"/>
<line x1="1138.42" y1="396.37" x2="1181.86" y2="415.35" stroke="#1c1c1c" stroke-width="1.5"/>
<line x1="942.04" y1="115.02" x2="1267.35" y2="257.14" stroke="#333" stroke-width="0.8"/>
<g transform="translate(1014.2 176.8) rotate(23.9)">
<rect x="0" y="0" width="168.9" height="44.2" stroke="#1c1c1c" stroke-width="2.2" fill="none"/>
<text x="11.5" y="33" font-size="30" fill="#1e1e1e" textLength="141" lengthAdjust="spacingAndGlyphs" class="l b">BLOCK - 5</text>
<text x="28" y="75" font-size="25" fill="#1e1e1e" textLength="115" lengthAdjust="spacingAndGlyphs" class="l b">12 - UNITS</text>
</g>
<text transform="translate(1053 289.5) rotate(23.6)" font-size="9.5" text-anchor="middle" fill="#1c1c1c" textLength="25" lengthAdjust="spacingAndGlyphs" class="d">33.18</text>
<text transform="translate(936.5 156.5) rotate(-66.4)" font-size="12" text-anchor="middle" fill="#222" textLength="21" lengthAdjust="spacingAndGlyphs" class="l m">Gas</text>
<text transform="translate(1236.5 303) rotate(-66.4)" font-size="12" text-anchor="middle" fill="#222" textLength="31" lengthAdjust="spacingAndGlyphs" class="l m">Hydro</text>
<text transform="translate(934 198) rotate(-66.4)" font-size="9.5" text-anchor="middle" fill="#1c1c1c" textLength="24" lengthAdjust="spacingAndGlyphs" class="d">13.06</text>
<text transform="translate(1201.5 316) rotate(-66.4)" font-size="9.5" text-anchor="middle" fill="#1c1c1c" textLength="24" lengthAdjust="spacingAndGlyphs" class="d">13.06</text>
<text transform="translate(898.5 278.5) rotate(-66.4)" font-size="9.5" text-anchor="middle" fill="#1c1c1c" textLength="19" lengthAdjust="spacingAndGlyphs" class="d">4.50</text>
<text transform="translate(1164 402.5) rotate(-66.4)" font-size="9.5" text-anchor="middle" fill="#1c1c1c" textLength="19" lengthAdjust="spacingAndGlyphs" class="d">4.50</text>
<g transform="translate(1102.4 575.6) rotate(24)">
<rect x="-18" y="-18" width="36" height="36" stroke="#1e1e1e" stroke-width="1.3" fill="none" stroke-dasharray="5 2.5"/>
<line x1="-18" y1="-18" x2="18" y2="-18" stroke="#1c1c1c" stroke-width="1.4"/>
<line x1="-18" y1="-18" x2="-18" y2="18" stroke="#1c1c1c" stroke-width="1.4"/>
<circle cx="-13" cy="-13" r="2" stroke="#1c1c1c" stroke-width="1.4" fill="none"/>
<circle cx="13" cy="-13" r="2" stroke="#1c1c1c" stroke-width="1.4" fill="none"/>
<circle cx="-13" cy="13" r="2" stroke="#1c1c1c" stroke-width="1.4" fill="none"/>
<circle cx="13" cy="13" r="2" stroke="#1c1c1c" stroke-width="1.4" fill="none"/>
<rect x="-6.8" y="-7.3" width="13.6" height="14.6" stroke="#1c1c1c" stroke-width="1.4" fill="none"/>
<line x1="-6.8" y1="-7.3" x2="6.8" y2="7.3" stroke="#1c1c1c" stroke-width="1"/>
<line x1="6.8" y1="-7.3" x2="-6.8" y2="7.3" stroke="#1c1c1c" stroke-width="1"/>
</g>
<line x1="1144" y1="550.3" x2="1122.5" y2="618.75" stroke="#1c1c1c" stroke-width="1.35"/>
<line x1="1140.81" y1="552.16" x2="1147.19" y2="549.84" stroke="#1c1c1c" stroke-width="1.7"/>
<line x1="1120.31" y1="616.66" x2="1126.69" y2="614.34" stroke="#1c1c1c" stroke-width="1.7"/>
<text transform="translate(1131.5 583) rotate(-72)" font-size="9.5" text-anchor="middle" fill="#1c1c1c" textLength="19" lengthAdjust="spacingAndGlyphs" class="d">6.23</text>
<path d="M1144,571.9 L1162.8,578.4 L1160,586.9 H1140.3 V603.75" stroke="#1c1c1c" stroke-width="1.5" fill="none"/>
<path d="M1177.8,602.8 V583.1  C1186.08,584.52 1210.13,588.53 1227.5,591.6 C1244.87,594.67 1272.92,599.85 1282,601.5" stroke="#1c1c1c" stroke-width="1.5" fill="none"/>
<text x="1237" y="567" font-size="11" fill="#333" textLength="20.5" lengthAdjust="spacingAndGlyphs" class="l m">D.C.</text>
<line x1="1253.75" y1="540" x2="1251" y2="615" stroke="#1c1c1c" stroke-width="1.35"/>
<line x1="1249.9" y1="576.19" x2="1255.1" y2="571.81" stroke="#1c1c1c" stroke-width="1.7"/>
<line x1="1248.4" y1="616.19" x2="1253.6" y2="611.81" stroke="#1c1c1c" stroke-width="1.7"/>
<text transform="translate(1247.5 594.4) rotate(-86)" font-size="9.5" text-anchor="middle" fill="#1c1c1c" textLength="19" lengthAdjust="spacingAndGlyphs" class="d">3.18</text>
<path d="M1282,459 H1267.5" stroke="#1c1c1c" stroke-width="3.9" fill="none"/>
<g transform="translate(1275.5 493) rotate(5) scale(1.05)" fill="none" stroke="#1c1c1c" stroke-linecap="round" stroke-linejoin="round">
<circle cx="-1.3" cy="-10.2" r="1.9" stroke-width="1.8"/>
<path d="M-1.6,-7 V1.4 H4.8 L7.6,7.6 L10.4,6.4" stroke-width="2.7"/>
<path d="M-1.6,-3.2 H3.4" stroke-width="1.9"/>
<path d="M-4.8,-2 A7.2,7.2 0 1 0 5.4,8" stroke-width="2.8"/>
</g>
<text x="1278.5" y="475" font-size="10.5" text-anchor="middle" fill="#333" class="l m">V</text>
<text x="1243" y="515.8" font-size="10.5" fill="#333" textLength="15" lengthAdjust="spacingAndGlyphs" class="l m">D.C.</text>
<line x1="1258" y1="524.3" x2="1282" y2="526.5" stroke="#1c1c1c" stroke-width="1.35"/>
<text transform="translate(1261.4 522) rotate(4)" font-size="9.5" fill="#1c1c1c" textLength="19" lengthAdjust="spacingAndGlyphs" class="d">2.40</text>
<line x1="1256" y1="540.5" x2="1282" y2="543" stroke="#1c1c1c" stroke-width="1.35"/>
<text transform="translate(1268.7 537.8) rotate(4)" font-size="9.5" fill="#1c1c1c" textLength="14" lengthAdjust="spacingAndGlyphs" class="d">3.9</text>
<line x1="1243" y1="504.8" x2="1230.8" y2="573.3" stroke="#1c1c1c" stroke-width="1.4"/>
<line x1="1259" y1="512" x2="1252.8" y2="575.7" stroke="#1c1c1c" stroke-width="1.4"/>
<path d="M1234,327.3 L1272.2,341.9 L1265.4,390.1 L1256.5,435" stroke="#1c1c1c" stroke-width="1.6" fill="none"/>
<path d="M1160,406 C1163.75,407.6 1173.17,412.08 1182.5,415.6 C1191.83,419.12 1206.32,424.37 1216,427.1 C1225.68,429.83 1233.85,430.68 1240.6,432 C1247.35,433.32 1253.85,434.5 1256.5,435" stroke="#1c1c1c" stroke-width="1.6" fill="none"/>
<line x1="1213.8" y1="373.3" x2="1282" y2="395.2" stroke="#1c1c1c" stroke-width="1.35"/>
<line x1="1210.86" y1="375" x2="1216.74" y2="371.6" stroke="#1c1c1c" stroke-width="1.7"/>
<line x1="1264.06" y1="392.2" x2="1269.94" y2="388.8" stroke="#1c1c1c" stroke-width="1.7"/>
<text transform="translate(1239.6 378) rotate(16)" font-size="9.5" text-anchor="middle" fill="#1c1c1c" textLength="19" lengthAdjust="spacingAndGlyphs" class="d">5.35</text>
<path d="M1258.7,267.9 C1260.58,268.17 1266.12,269.07 1270,269.5 C1273.88,269.93 1280,270.33 1282,270.5" stroke="#1c1c1c" stroke-width="1.5" fill="none"/>
<path d="M1256.5,282.4 C1258.75,283.17 1265.75,285.87 1270,287 C1274.25,288.13 1280,288.83 1282,289.2" stroke="#1c1c1c" stroke-width="1.5" fill="none"/>
<path d="M1258.7,289.2 C1260.58,290 1266.12,292.7 1270,294 C1273.88,295.3 1280,296.5 1282,297" stroke="#1c1c1c" stroke-width="1.5" fill="none"/>
<line x1="1277.8" y1="345.2" x2="1272.2" y2="437.2" stroke="#1c1c1c" stroke-width="1.5"/>
<line x1="1274.4" y1="358.7" x2="1249.7" y2="444" stroke="#333" stroke-width="1" stroke-dasharray="9 3"/>
<use href="#bldg"/>
<use href="#bldg" transform="matrix(1 0 0 -1 0 815)"/>
<use href="#bldg" transform="translate(0 712.5)"/>
<rect x="363.8" y="372.3" width="50.4" height="13.2" stroke="#1c1c1c" stroke-width="1.5" fill="none"/>
<line x1="389" y1="372.3" x2="389" y2="383" stroke="#1c1c1c" stroke-width="1.2"/>
<rect x="363.8" y="433.6" width="50.4" height="9.1" stroke="#1c1c1c" stroke-width="1.5" fill="none"/>
<line x1="389" y1="431" x2="389" y2="442.7" stroke="#1c1c1c" stroke-width="1.2"/>
<rect x="538.4" y="372.3" width="50.4" height="13.2" stroke="#1c1c1c" stroke-width="1.5" fill="none"/>
<line x1="563.6" y1="372.3" x2="563.6" y2="383" stroke="#1c1c1c" stroke-width="1.2"/>
<rect x="538.4" y="433.6" width="50.4" height="9.1" stroke="#1c1c1c" stroke-width="1.5" fill="none"/>
<line x1="563.6" y1="431" x2="563.6" y2="442.7" stroke="#1c1c1c" stroke-width="1.2"/>
<path d="M1069.9,676.65 H1052.5 M1069.9,727.05 H1052.5" stroke="#1c1c1c" stroke-width="1.4" fill="none"/>
<line x1="1069.9" y1="676.65" x2="1069.9" y2="727.05" stroke="#1c1c1c" stroke-width="1.4"/>
<path d="M1069.9,851.3 H1052.5 M1069.9,901.7 H1052.5" stroke="#1c1c1c" stroke-width="1.4" fill="none"/>
<line x1="1069.9" y1="851.3" x2="1069.9" y2="901.7" stroke="#1c1c1c" stroke-width="1.4"/>
<path d="M1014.43,108.67 L1019.72,96.58 L1035.02,103.26" stroke="#1c1c1c" stroke-width="1.5" fill="none"/>
<path d="M1060.62,128.85 L1065.9,116.75 L1050.6,110.07" stroke="#1c1c1c" stroke-width="1.5" fill="none"/>
<path d="M1174.43,178.57 L1179.72,166.48 L1195.02,173.16" stroke="#1c1c1c" stroke-width="1.5" fill="none"/>
<path d="M1220.62,198.75 L1225.9,186.66 L1210.6,179.97" stroke="#1c1c1c" stroke-width="1.5" fill="none"/>
<rect x="392.8" y="221.6" width="165.8" height="43.4" stroke="#1c1c1c" stroke-width="2.2" fill="none"/>
<text x="404.7" y="253.2" font-size="30" fill="#1e1e1e" textLength="140.3" lengthAdjust="spacingAndGlyphs" class="l b">BLOCK - 2</text>
<text x="420.3" y="294.8" font-size="25" fill="#1e1e1e" textLength="115.3" lengthAdjust="spacingAndGlyphs" class="l b">12 - UNITS</text>
<rect x="393.5" y="506.6" width="165.5" height="41.6" stroke="#1c1c1c" stroke-width="2.2" fill="none"/>
<text x="405" y="539" font-size="30" fill="#1e1e1e" textLength="141" lengthAdjust="spacingAndGlyphs" class="l b">BLOCK - 3</text>
<text x="420" y="577" font-size="25" fill="#1e1e1e" textLength="115" lengthAdjust="spacingAndGlyphs" class="l b">12 - UNITS</text>
<rect x="393.5" y="934" width="165.5" height="42" stroke="#1c1c1c" stroke-width="2.2" fill="none"/>
<text x="405.5" y="967" font-size="30" fill="#1e1e1e" textLength="139.5" lengthAdjust="spacingAndGlyphs" class="l b">BLOCK - 4</text>
<text transform="translate(313.3 284.5) rotate(-90)" font-size="12" text-anchor="middle" fill="#222" textLength="21" lengthAdjust="spacingAndGlyphs" class="l m">Gas</text>
<text transform="translate(313.3 535) rotate(-90)" font-size="12" text-anchor="middle" fill="#222" textLength="21" lengthAdjust="spacingAndGlyphs" class="l m">Gas</text>
<text transform="translate(646.3 284.5) rotate(-90)" font-size="12" text-anchor="middle" fill="#222" textLength="31" lengthAdjust="spacingAndGlyphs" class="l m">Hydro</text>
<text transform="translate(646.3 530) rotate(-90)" font-size="12" text-anchor="middle" fill="#222" textLength="31" lengthAdjust="spacingAndGlyphs" class="l m">Hydro</text>
</svg></body></html>
